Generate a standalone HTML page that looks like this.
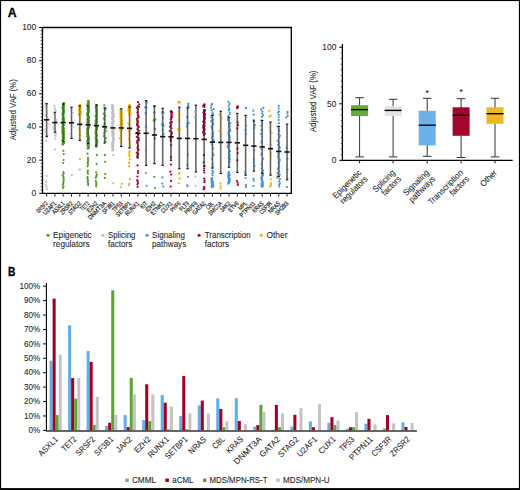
<!DOCTYPE html>
<html><head><meta charset="utf-8"><title>Figure</title>
<style>html,body{margin:0;padding:0;background:#fff;width:520px;height:490px;overflow:hidden}svg{display:block}text{font-family:"Liberation Sans",sans-serif}</style>
</head><body>
<svg width="520" height="490" viewBox="0 0 520 490"><rect x="0" y="0" width="520" height="490" fill="#fff"/>
<text x="7.7" y="16.9" font-size="12.3" font-weight="bold" stroke="#000" stroke-width="0.3" font-family="Liberation Sans, sans-serif">A</text>
<text x="7.9" y="275.8" font-size="12.3" font-weight="bold" stroke="#000" stroke-width="0.3" textLength="7.4" lengthAdjust="spacingAndGlyphs" font-family="Liberation Sans, sans-serif">B</text>
<path d="M42.5,27.5 H291.3 V193.3 H42.5 Z" fill="none" stroke="#000" stroke-width="1.3"/>
<line x1="39.2" y1="193.30" x2="42.5" y2="193.30" stroke="#000" stroke-width="1"/>
<text x="36.2" y="195.75" font-size="8.4" text-anchor="end" fill="#1e1e1e" stroke="#1e1e1e" stroke-width="0.08" font-family="Liberation Sans, sans-serif">0</text>
<line x1="39.2" y1="160.14" x2="42.5" y2="160.14" stroke="#000" stroke-width="1"/>
<text x="36.2" y="162.59" font-size="8.4" text-anchor="end" fill="#1e1e1e" stroke="#1e1e1e" stroke-width="0.08" font-family="Liberation Sans, sans-serif">20</text>
<line x1="39.2" y1="126.98" x2="42.5" y2="126.98" stroke="#000" stroke-width="1"/>
<text x="36.2" y="129.43" font-size="8.4" text-anchor="end" fill="#1e1e1e" stroke="#1e1e1e" stroke-width="0.08" font-family="Liberation Sans, sans-serif">40</text>
<line x1="39.2" y1="93.82" x2="42.5" y2="93.82" stroke="#000" stroke-width="1"/>
<text x="36.2" y="96.27" font-size="8.4" text-anchor="end" fill="#1e1e1e" stroke="#1e1e1e" stroke-width="0.08" font-family="Liberation Sans, sans-serif">60</text>
<line x1="39.2" y1="60.66" x2="42.5" y2="60.66" stroke="#000" stroke-width="1"/>
<text x="36.2" y="63.11" font-size="8.4" text-anchor="end" fill="#1e1e1e" stroke="#1e1e1e" stroke-width="0.08" font-family="Liberation Sans, sans-serif">80</text>
<line x1="39.2" y1="27.50" x2="42.5" y2="27.50" stroke="#000" stroke-width="1"/>
<text x="36.2" y="29.95" font-size="8.4" text-anchor="end" fill="#1e1e1e" stroke="#1e1e1e" stroke-width="0.08" font-family="Liberation Sans, sans-serif">100</text>
<line x1="40.7" y1="189.98" x2="42.5" y2="189.98" stroke="#000" stroke-width="0.8"/>
<line x1="40.7" y1="186.67" x2="42.5" y2="186.67" stroke="#000" stroke-width="0.8"/>
<line x1="40.7" y1="183.35" x2="42.5" y2="183.35" stroke="#000" stroke-width="0.8"/>
<line x1="40.7" y1="180.04" x2="42.5" y2="180.04" stroke="#000" stroke-width="0.8"/>
<line x1="40.7" y1="176.72" x2="42.5" y2="176.72" stroke="#000" stroke-width="0.8"/>
<line x1="40.7" y1="173.40" x2="42.5" y2="173.40" stroke="#000" stroke-width="0.8"/>
<line x1="40.7" y1="170.09" x2="42.5" y2="170.09" stroke="#000" stroke-width="0.8"/>
<line x1="40.7" y1="166.77" x2="42.5" y2="166.77" stroke="#000" stroke-width="0.8"/>
<line x1="40.7" y1="163.46" x2="42.5" y2="163.46" stroke="#000" stroke-width="0.8"/>
<line x1="40.7" y1="156.82" x2="42.5" y2="156.82" stroke="#000" stroke-width="0.8"/>
<line x1="40.7" y1="153.51" x2="42.5" y2="153.51" stroke="#000" stroke-width="0.8"/>
<line x1="40.7" y1="150.19" x2="42.5" y2="150.19" stroke="#000" stroke-width="0.8"/>
<line x1="40.7" y1="146.88" x2="42.5" y2="146.88" stroke="#000" stroke-width="0.8"/>
<line x1="40.7" y1="143.56" x2="42.5" y2="143.56" stroke="#000" stroke-width="0.8"/>
<line x1="40.7" y1="140.24" x2="42.5" y2="140.24" stroke="#000" stroke-width="0.8"/>
<line x1="40.7" y1="136.93" x2="42.5" y2="136.93" stroke="#000" stroke-width="0.8"/>
<line x1="40.7" y1="133.61" x2="42.5" y2="133.61" stroke="#000" stroke-width="0.8"/>
<line x1="40.7" y1="130.30" x2="42.5" y2="130.30" stroke="#000" stroke-width="0.8"/>
<line x1="40.7" y1="123.66" x2="42.5" y2="123.66" stroke="#000" stroke-width="0.8"/>
<line x1="40.7" y1="120.35" x2="42.5" y2="120.35" stroke="#000" stroke-width="0.8"/>
<line x1="40.7" y1="117.03" x2="42.5" y2="117.03" stroke="#000" stroke-width="0.8"/>
<line x1="40.7" y1="113.72" x2="42.5" y2="113.72" stroke="#000" stroke-width="0.8"/>
<line x1="40.7" y1="110.40" x2="42.5" y2="110.40" stroke="#000" stroke-width="0.8"/>
<line x1="40.7" y1="107.08" x2="42.5" y2="107.08" stroke="#000" stroke-width="0.8"/>
<line x1="40.7" y1="103.77" x2="42.5" y2="103.77" stroke="#000" stroke-width="0.8"/>
<line x1="40.7" y1="100.45" x2="42.5" y2="100.45" stroke="#000" stroke-width="0.8"/>
<line x1="40.7" y1="97.14" x2="42.5" y2="97.14" stroke="#000" stroke-width="0.8"/>
<line x1="40.7" y1="90.50" x2="42.5" y2="90.50" stroke="#000" stroke-width="0.8"/>
<line x1="40.7" y1="87.19" x2="42.5" y2="87.19" stroke="#000" stroke-width="0.8"/>
<line x1="40.7" y1="83.87" x2="42.5" y2="83.87" stroke="#000" stroke-width="0.8"/>
<line x1="40.7" y1="80.56" x2="42.5" y2="80.56" stroke="#000" stroke-width="0.8"/>
<line x1="40.7" y1="77.24" x2="42.5" y2="77.24" stroke="#000" stroke-width="0.8"/>
<line x1="40.7" y1="73.92" x2="42.5" y2="73.92" stroke="#000" stroke-width="0.8"/>
<line x1="40.7" y1="70.61" x2="42.5" y2="70.61" stroke="#000" stroke-width="0.8"/>
<line x1="40.7" y1="67.29" x2="42.5" y2="67.29" stroke="#000" stroke-width="0.8"/>
<line x1="40.7" y1="63.98" x2="42.5" y2="63.98" stroke="#000" stroke-width="0.8"/>
<line x1="40.7" y1="57.34" x2="42.5" y2="57.34" stroke="#000" stroke-width="0.8"/>
<line x1="40.7" y1="54.03" x2="42.5" y2="54.03" stroke="#000" stroke-width="0.8"/>
<line x1="40.7" y1="50.71" x2="42.5" y2="50.71" stroke="#000" stroke-width="0.8"/>
<line x1="40.7" y1="47.40" x2="42.5" y2="47.40" stroke="#000" stroke-width="0.8"/>
<line x1="40.7" y1="44.08" x2="42.5" y2="44.08" stroke="#000" stroke-width="0.8"/>
<line x1="40.7" y1="40.76" x2="42.5" y2="40.76" stroke="#000" stroke-width="0.8"/>
<line x1="40.7" y1="37.45" x2="42.5" y2="37.45" stroke="#000" stroke-width="0.8"/>
<line x1="40.7" y1="34.13" x2="42.5" y2="34.13" stroke="#000" stroke-width="0.8"/>
<line x1="40.7" y1="30.82" x2="42.5" y2="30.82" stroke="#000" stroke-width="0.8"/>
<text transform="translate(15.9,109.7) rotate(-90)" font-size="9.8" text-anchor="middle" fill="#1e1e1e" stroke="#1e1e1e" stroke-width="0.08" textLength="60.95" lengthAdjust="spacingAndGlyphs" font-family="Liberation Sans, sans-serif">Adjusted VAF (%)</text>
<line x1="46.65" y1="193.3" x2="46.65" y2="196.6" stroke="#000" stroke-width="0.9"/>
<text transform="translate(48.55,203.9) rotate(-45)" font-size="6.3" text-anchor="end" fill="#1e1e1e" stroke="#1e1e1e" stroke-width="0.2" textLength="13.90" lengthAdjust="spacingAndGlyphs" font-family="Liberation Sans, sans-serif">SRSF2</text>
<line x1="54.94" y1="193.3" x2="54.94" y2="196.6" stroke="#000" stroke-width="0.9"/>
<text transform="translate(56.84,203.9) rotate(-45)" font-size="6.3" text-anchor="end" fill="#1e1e1e" stroke="#1e1e1e" stroke-width="0.2" textLength="16.10" lengthAdjust="spacingAndGlyphs" font-family="Liberation Sans, sans-serif">U2AF1</text>
<line x1="63.23" y1="193.3" x2="63.23" y2="196.6" stroke="#000" stroke-width="0.9"/>
<text transform="translate(65.13,203.9) rotate(-45)" font-size="6.3" text-anchor="end" fill="#1e1e1e" stroke="#1e1e1e" stroke-width="0.2" textLength="14.90" lengthAdjust="spacingAndGlyphs" font-family="Liberation Sans, sans-serif">ASXL1</text>
<line x1="71.52" y1="193.3" x2="71.52" y2="196.6" stroke="#000" stroke-width="0.9"/>
<text transform="translate(73.42,203.9) rotate(-45)" font-size="6.3" text-anchor="end" fill="#1e1e1e" stroke="#1e1e1e" stroke-width="0.2" textLength="15.60" lengthAdjust="spacingAndGlyphs" font-family="Liberation Sans, sans-serif">ZRSR2</text>
<line x1="79.81" y1="193.3" x2="79.81" y2="196.6" stroke="#000" stroke-width="0.9"/>
<text transform="translate(81.71,203.9) rotate(-45)" font-size="6.3" text-anchor="end" fill="#1e1e1e" stroke="#1e1e1e" stroke-width="0.2" textLength="15.60" lengthAdjust="spacingAndGlyphs" font-family="Liberation Sans, sans-serif">STAG2</text>
<line x1="88.10" y1="193.3" x2="88.10" y2="196.6" stroke="#000" stroke-width="0.9"/>
<text transform="translate(90.00,203.9) rotate(-45)" font-size="6.3" text-anchor="end" fill="#1e1e1e" stroke="#1e1e1e" stroke-width="0.2" textLength="10.50" lengthAdjust="spacingAndGlyphs" font-family="Liberation Sans, sans-serif">TET2</text>
<line x1="96.39" y1="193.3" x2="96.39" y2="196.6" stroke="#000" stroke-width="0.9"/>
<text transform="translate(98.29,203.9) rotate(-45)" font-size="6.3" text-anchor="end" fill="#1e1e1e" stroke="#1e1e1e" stroke-width="0.2" textLength="12.80" lengthAdjust="spacingAndGlyphs" font-family="Liberation Sans, sans-serif">EZH2</text>
<line x1="104.68" y1="193.3" x2="104.68" y2="196.6" stroke="#000" stroke-width="0.9"/>
<text transform="translate(106.58,203.9) rotate(-45)" font-size="6.3" text-anchor="end" fill="#1e1e1e" stroke="#1e1e1e" stroke-width="0.2" textLength="22.90" lengthAdjust="spacingAndGlyphs" font-family="Liberation Sans, sans-serif">DNMT3A</text>
<line x1="112.97" y1="193.3" x2="112.97" y2="196.6" stroke="#000" stroke-width="0.9"/>
<text transform="translate(114.87,203.9) rotate(-45)" font-size="6.3" text-anchor="end" fill="#1e1e1e" stroke="#1e1e1e" stroke-width="0.2" textLength="14.50" lengthAdjust="spacingAndGlyphs" font-family="Liberation Sans, sans-serif">SF3B1</text>
<line x1="121.26" y1="193.3" x2="121.26" y2="196.6" stroke="#000" stroke-width="0.9"/>
<text transform="translate(123.16,203.9) rotate(-45)" font-size="6.3" text-anchor="end" fill="#1e1e1e" stroke="#1e1e1e" stroke-width="0.2" textLength="12.00" lengthAdjust="spacingAndGlyphs" font-family="Liberation Sans, sans-serif">TP53</text>
<line x1="129.55" y1="193.3" x2="129.55" y2="196.6" stroke="#000" stroke-width="0.9"/>
<text transform="translate(131.45,203.9) rotate(-45)" font-size="6.3" text-anchor="end" fill="#1e1e1e" stroke="#1e1e1e" stroke-width="0.2" textLength="18.50" lengthAdjust="spacingAndGlyphs" font-family="Liberation Sans, sans-serif">SETBP1</text>
<line x1="137.84" y1="193.3" x2="137.84" y2="196.6" stroke="#000" stroke-width="0.9"/>
<text transform="translate(139.74,203.9) rotate(-45)" font-size="6.3" text-anchor="end" fill="#1e1e1e" stroke="#1e1e1e" stroke-width="0.2" textLength="17.30" lengthAdjust="spacingAndGlyphs" font-family="Liberation Sans, sans-serif">RUNX1</text>
<line x1="146.13" y1="193.3" x2="146.13" y2="196.6" stroke="#000" stroke-width="0.9"/>
<text transform="translate(148.03,203.9) rotate(-45)" font-size="6.3" text-anchor="end" fill="#1e1e1e" stroke="#1e1e1e" stroke-width="0.2" textLength="7.60" lengthAdjust="spacingAndGlyphs" font-family="Liberation Sans, sans-serif">KIT</text>
<line x1="154.42" y1="193.3" x2="154.42" y2="196.6" stroke="#000" stroke-width="0.9"/>
<text transform="translate(156.32,203.9) rotate(-45)" font-size="6.3" text-anchor="end" fill="#1e1e1e" stroke="#1e1e1e" stroke-width="0.2" textLength="12.00" lengthAdjust="spacingAndGlyphs" font-family="Liberation Sans, sans-serif">IDH2</text>
<line x1="162.71" y1="193.3" x2="162.71" y2="196.6" stroke="#000" stroke-width="0.9"/>
<text transform="translate(164.61,203.9) rotate(-45)" font-size="6.3" text-anchor="end" fill="#1e1e1e" stroke="#1e1e1e" stroke-width="0.2" textLength="16.30" lengthAdjust="spacingAndGlyphs" font-family="Liberation Sans, sans-serif">ETNK1</text>
<line x1="171.00" y1="193.3" x2="171.00" y2="196.6" stroke="#000" stroke-width="0.9"/>
<text transform="translate(172.90,203.9) rotate(-45)" font-size="6.3" text-anchor="end" fill="#1e1e1e" stroke="#1e1e1e" stroke-width="0.2" textLength="13.70" lengthAdjust="spacingAndGlyphs" font-family="Liberation Sans, sans-serif">CUX1</text>
<line x1="179.29" y1="193.3" x2="179.29" y2="196.6" stroke="#000" stroke-width="0.9"/>
<text transform="translate(181.19,203.9) rotate(-45)" font-size="6.3" text-anchor="end" fill="#1e1e1e" stroke="#1e1e1e" stroke-width="0.2" textLength="12.00" lengthAdjust="spacingAndGlyphs" font-family="Liberation Sans, sans-serif">PHF6</text>
<line x1="187.58" y1="193.3" x2="187.58" y2="196.6" stroke="#000" stroke-width="0.9"/>
<text transform="translate(189.48,203.9) rotate(-45)" font-size="6.3" text-anchor="end" fill="#1e1e1e" stroke="#1e1e1e" stroke-width="0.2" textLength="10.80" lengthAdjust="spacingAndGlyphs" font-family="Liberation Sans, sans-serif">FLT3</text>
<line x1="195.87" y1="193.3" x2="195.87" y2="196.6" stroke="#000" stroke-width="0.9"/>
<text transform="translate(197.77,203.9) rotate(-45)" font-size="6.3" text-anchor="end" fill="#1e1e1e" stroke="#1e1e1e" stroke-width="0.2" textLength="15.20" lengthAdjust="spacingAndGlyphs" font-family="Liberation Sans, sans-serif">PRPF8</text>
<line x1="204.16" y1="193.3" x2="204.16" y2="196.6" stroke="#000" stroke-width="0.9"/>
<text transform="translate(206.06,203.9) rotate(-45)" font-size="6.3" text-anchor="end" fill="#1e1e1e" stroke="#1e1e1e" stroke-width="0.2" textLength="15.90" lengthAdjust="spacingAndGlyphs" font-family="Liberation Sans, sans-serif">GATA2</text>
<line x1="212.45" y1="193.3" x2="212.45" y2="196.6" stroke="#000" stroke-width="0.9"/>
<text transform="translate(214.35,203.9) rotate(-45)" font-size="6.3" text-anchor="end" fill="#1e1e1e" stroke="#1e1e1e" stroke-width="0.2" textLength="8.70" lengthAdjust="spacingAndGlyphs" font-family="Liberation Sans, sans-serif">CBL</text>
<line x1="220.74" y1="193.3" x2="220.74" y2="196.6" stroke="#000" stroke-width="0.9"/>
<text transform="translate(222.64,203.9) rotate(-45)" font-size="6.3" text-anchor="end" fill="#1e1e1e" stroke="#1e1e1e" stroke-width="0.2" textLength="16.80" lengthAdjust="spacingAndGlyphs" font-family="Liberation Sans, sans-serif">SMC1A</text>
<line x1="229.03" y1="193.3" x2="229.03" y2="196.6" stroke="#000" stroke-width="0.9"/>
<text transform="translate(230.93,203.9) rotate(-45)" font-size="6.3" text-anchor="end" fill="#1e1e1e" stroke="#1e1e1e" stroke-width="0.2" textLength="12.00" lengthAdjust="spacingAndGlyphs" font-family="Liberation Sans, sans-serif">JAK2</text>
<line x1="237.32" y1="193.3" x2="237.32" y2="196.6" stroke="#000" stroke-width="0.9"/>
<text transform="translate(239.22,203.9) rotate(-45)" font-size="6.3" text-anchor="end" fill="#1e1e1e" stroke="#1e1e1e" stroke-width="0.2" textLength="12.00" lengthAdjust="spacingAndGlyphs" font-family="Liberation Sans, sans-serif">ETV6</text>
<line x1="245.61" y1="193.3" x2="245.61" y2="196.6" stroke="#000" stroke-width="0.9"/>
<text transform="translate(247.51,203.9) rotate(-45)" font-size="6.3" text-anchor="end" fill="#1e1e1e" stroke="#1e1e1e" stroke-width="0.2" textLength="9.70" lengthAdjust="spacingAndGlyphs" font-family="Liberation Sans, sans-serif">MPL</text>
<line x1="253.90" y1="193.3" x2="253.90" y2="196.6" stroke="#000" stroke-width="0.9"/>
<text transform="translate(255.80,203.9) rotate(-45)" font-size="6.3" text-anchor="end" fill="#1e1e1e" stroke="#1e1e1e" stroke-width="0.2" textLength="19.60" lengthAdjust="spacingAndGlyphs" font-family="Liberation Sans, sans-serif">PTPN11</text>
<line x1="262.19" y1="193.3" x2="262.19" y2="196.6" stroke="#000" stroke-width="0.9"/>
<text transform="translate(264.09,203.9) rotate(-45)" font-size="6.3" text-anchor="end" fill="#1e1e1e" stroke="#1e1e1e" stroke-width="0.2" textLength="13.10" lengthAdjust="spacingAndGlyphs" font-family="Liberation Sans, sans-serif">KRAS</text>
<line x1="270.48" y1="193.3" x2="270.48" y2="196.6" stroke="#000" stroke-width="0.9"/>
<text transform="translate(272.38,203.9) rotate(-45)" font-size="6.3" text-anchor="end" fill="#1e1e1e" stroke="#1e1e1e" stroke-width="0.2" textLength="15.20" lengthAdjust="spacingAndGlyphs" font-family="Liberation Sans, sans-serif">CSF3R</text>
<line x1="278.77" y1="193.3" x2="278.77" y2="196.6" stroke="#000" stroke-width="0.9"/>
<text transform="translate(280.67,203.9) rotate(-45)" font-size="6.3" text-anchor="end" fill="#1e1e1e" stroke="#1e1e1e" stroke-width="0.2" textLength="14.10" lengthAdjust="spacingAndGlyphs" font-family="Liberation Sans, sans-serif">NRAS</text>
<line x1="287.06" y1="193.3" x2="287.06" y2="196.6" stroke="#000" stroke-width="0.9"/>
<text transform="translate(288.96,203.9) rotate(-45)" font-size="6.3" text-anchor="end" fill="#1e1e1e" stroke="#1e1e1e" stroke-width="0.2" textLength="16.30" lengthAdjust="spacingAndGlyphs" font-family="Liberation Sans, sans-serif">SH2B3</text>
<line x1="46.65" y1="103.7" x2="46.65" y2="136.3" stroke="#9a9a9a" stroke-width="1.8"/>
<line x1="54.94" y1="112.3" x2="54.94" y2="132.2" stroke="#9a9a9a" stroke-width="1.8"/>
<line x1="63.23" y1="104.0" x2="63.23" y2="141.4" stroke="#9a9a9a" stroke-width="1.8"/>
<line x1="71.52" y1="107.2" x2="71.52" y2="138.4" stroke="#9a9a9a" stroke-width="1.8"/>
<line x1="79.81" y1="106.0" x2="79.81" y2="140.4" stroke="#9a9a9a" stroke-width="1.8"/>
<line x1="88.10" y1="106.2" x2="88.10" y2="143.5" stroke="#9a9a9a" stroke-width="1.8"/>
<line x1="96.39" y1="105.0" x2="96.39" y2="145.5" stroke="#9a9a9a" stroke-width="1.8"/>
<line x1="104.68" y1="108.0" x2="104.68" y2="143.0" stroke="#9a9a9a" stroke-width="1.8"/>
<line x1="121.26" y1="108.8" x2="121.26" y2="146.5" stroke="#9a9a9a" stroke-width="1.8"/>
<line x1="129.55" y1="107.0" x2="129.55" y2="148.0" stroke="#9a9a9a" stroke-width="1.8"/>
<line x1="137.84" y1="106.0" x2="137.84" y2="158.0" stroke="#9a9a9a" stroke-width="1.8"/>
<line x1="146.13" y1="100.6" x2="146.13" y2="165.4" stroke="#9a9a9a" stroke-width="1.8"/>
<line x1="154.42" y1="106.0" x2="154.42" y2="163.6" stroke="#9a9a9a" stroke-width="1.8"/>
<line x1="162.71" y1="108.3" x2="162.71" y2="165.4" stroke="#9a9a9a" stroke-width="1.8"/>
<line x1="171.00" y1="111.0" x2="171.00" y2="160.3" stroke="#9a9a9a" stroke-width="1.8"/>
<line x1="179.29" y1="107.2" x2="179.29" y2="168.7" stroke="#9a9a9a" stroke-width="1.8"/>
<line x1="187.58" y1="107.8" x2="187.58" y2="168.7" stroke="#9a9a9a" stroke-width="1.8"/>
<line x1="195.87" y1="105.2" x2="195.87" y2="172.0" stroke="#9a9a9a" stroke-width="1.8"/>
<line x1="204.16" y1="110.0" x2="204.16" y2="166.0" stroke="#9a9a9a" stroke-width="1.8"/>
<line x1="212.45" y1="115.4" x2="212.45" y2="168.1" stroke="#9a9a9a" stroke-width="1.8"/>
<line x1="220.74" y1="111.3" x2="220.74" y2="173.5" stroke="#9a9a9a" stroke-width="1.8"/>
<line x1="229.03" y1="117.2" x2="229.03" y2="167.3" stroke="#9a9a9a" stroke-width="1.8"/>
<line x1="237.32" y1="113.4" x2="237.32" y2="172.4" stroke="#9a9a9a" stroke-width="1.8"/>
<line x1="245.61" y1="115.4" x2="245.61" y2="175.2" stroke="#9a9a9a" stroke-width="1.8"/>
<line x1="253.90" y1="121.0" x2="253.90" y2="171.1" stroke="#9a9a9a" stroke-width="1.8"/>
<line x1="262.19" y1="120.5" x2="262.19" y2="173.2" stroke="#9a9a9a" stroke-width="1.8"/>
<line x1="270.48" y1="122.0" x2="270.48" y2="175.2" stroke="#9a9a9a" stroke-width="1.8"/>
<line x1="278.77" y1="126.4" x2="278.77" y2="176.7" stroke="#9a9a9a" stroke-width="1.8"/>
<line x1="287.06" y1="124.1" x2="287.06" y2="179.8" stroke="#9a9a9a" stroke-width="1.8"/>
<circle cx="45.74" cy="103.63" r="1.1" fill="#bfbfc2"/>
<circle cx="45.54" cy="106.71" r="1.1" fill="#bfbfc2"/>
<circle cx="46.30" cy="108.92" r="1.1" fill="#bfbfc2"/>
<circle cx="46.67" cy="110.43" r="1.1" fill="#bfbfc2"/>
<circle cx="46.48" cy="112.82" r="1.1" fill="#bfbfc2"/>
<circle cx="45.59" cy="115.32" r="1.1" fill="#bfbfc2"/>
<circle cx="47.50" cy="118.45" r="1.1" fill="#bfbfc2"/>
<circle cx="45.93" cy="120.30" r="1.1" fill="#bfbfc2"/>
<circle cx="47.81" cy="123.72" r="1.1" fill="#bfbfc2"/>
<circle cx="46.38" cy="126.06" r="1.1" fill="#bfbfc2"/>
<circle cx="45.47" cy="129.28" r="1.1" fill="#bfbfc2"/>
<circle cx="46.10" cy="131.49" r="1.1" fill="#bfbfc2"/>
<circle cx="45.66" cy="132.53" r="1.1" fill="#bfbfc2"/>
<circle cx="47.47" cy="135.29" r="1.1" fill="#bfbfc2"/>
<circle cx="46.86" cy="137.48" r="1.1" fill="#bfbfc2"/>
<circle cx="46.32" cy="140.81" r="1.1" fill="#bfbfc2"/>
<circle cx="46.71" cy="176.10" r="1.1" fill="#bfbfc2"/>
<circle cx="46.13" cy="181.70" r="1.1" fill="#bfbfc2"/>
<circle cx="46.12" cy="184.80" r="1.1" fill="#bfbfc2"/>
<circle cx="46.30" cy="186.50" r="1.1" fill="#bfbfc2"/>
<circle cx="46.87" cy="188.90" r="1.1" fill="#bfbfc2"/>
<circle cx="54.46" cy="105.86" r="1.1" fill="#bfbfc2"/>
<circle cx="54.82" cy="108.67" r="1.1" fill="#bfbfc2"/>
<circle cx="55.71" cy="110.60" r="1.1" fill="#bfbfc2"/>
<circle cx="54.27" cy="113.90" r="1.1" fill="#bfbfc2"/>
<circle cx="55.01" cy="116.15" r="1.1" fill="#bfbfc2"/>
<circle cx="55.54" cy="119.25" r="1.1" fill="#bfbfc2"/>
<circle cx="56.19" cy="120.58" r="1.1" fill="#bfbfc2"/>
<circle cx="54.73" cy="122.74" r="1.1" fill="#bfbfc2"/>
<circle cx="54.04" cy="126.51" r="1.1" fill="#bfbfc2"/>
<circle cx="53.74" cy="128.48" r="1.1" fill="#bfbfc2"/>
<circle cx="55.63" cy="131.34" r="1.1" fill="#bfbfc2"/>
<circle cx="55.92" cy="133.65" r="1.1" fill="#bfbfc2"/>
<circle cx="55.45" cy="135.63" r="1.1" fill="#bfbfc2"/>
<circle cx="55.15" cy="138.69" r="1.1" fill="#bfbfc2"/>
<circle cx="54.89" cy="149.60" r="1.1" fill="#bfbfc2"/>
<circle cx="63.90" cy="103.26" r="1.2" fill="#4f9c2a"/>
<circle cx="63.48" cy="103.67" r="1.2" fill="#4f9c2a"/>
<circle cx="63.53" cy="104.06" r="1.2" fill="#4f9c2a"/>
<circle cx="63.97" cy="105.11" r="1.2" fill="#4f9c2a"/>
<circle cx="62.91" cy="105.89" r="1.2" fill="#4f9c2a"/>
<circle cx="63.48" cy="106.26" r="1.2" fill="#4f9c2a"/>
<circle cx="63.17" cy="106.68" r="1.2" fill="#4f9c2a"/>
<circle cx="62.66" cy="107.44" r="1.2" fill="#4f9c2a"/>
<circle cx="63.63" cy="108.03" r="1.2" fill="#4f9c2a"/>
<circle cx="62.85" cy="108.73" r="1.2" fill="#4f9c2a"/>
<circle cx="63.79" cy="109.57" r="1.2" fill="#4f9c2a"/>
<circle cx="63.15" cy="110.02" r="1.2" fill="#4f9c2a"/>
<circle cx="63.81" cy="110.99" r="1.2" fill="#4f9c2a"/>
<circle cx="63.78" cy="111.83" r="1.2" fill="#4f9c2a"/>
<circle cx="63.10" cy="112.14" r="1.2" fill="#4f9c2a"/>
<circle cx="63.81" cy="112.85" r="1.2" fill="#4f9c2a"/>
<circle cx="62.71" cy="113.91" r="1.2" fill="#4f9c2a"/>
<circle cx="62.83" cy="114.05" r="1.2" fill="#4f9c2a"/>
<circle cx="63.21" cy="114.75" r="1.2" fill="#4f9c2a"/>
<circle cx="62.87" cy="115.65" r="1.2" fill="#4f9c2a"/>
<circle cx="63.11" cy="115.92" r="1.2" fill="#4f9c2a"/>
<circle cx="63.33" cy="116.82" r="1.2" fill="#4f9c2a"/>
<circle cx="63.52" cy="117.87" r="1.2" fill="#4f9c2a"/>
<circle cx="63.41" cy="118.24" r="1.2" fill="#4f9c2a"/>
<circle cx="62.56" cy="119.01" r="1.2" fill="#4f9c2a"/>
<circle cx="63.65" cy="119.82" r="1.2" fill="#4f9c2a"/>
<circle cx="63.68" cy="120.46" r="1.2" fill="#4f9c2a"/>
<circle cx="63.08" cy="120.80" r="1.2" fill="#4f9c2a"/>
<circle cx="63.43" cy="121.27" r="1.2" fill="#4f9c2a"/>
<circle cx="62.58" cy="121.91" r="1.2" fill="#4f9c2a"/>
<circle cx="62.72" cy="122.67" r="1.2" fill="#4f9c2a"/>
<circle cx="62.56" cy="123.41" r="1.2" fill="#4f9c2a"/>
<circle cx="62.71" cy="123.85" r="1.2" fill="#4f9c2a"/>
<circle cx="63.03" cy="124.58" r="1.2" fill="#4f9c2a"/>
<circle cx="63.79" cy="125.19" r="1.2" fill="#4f9c2a"/>
<circle cx="62.70" cy="126.24" r="1.2" fill="#4f9c2a"/>
<circle cx="63.00" cy="126.66" r="1.2" fill="#4f9c2a"/>
<circle cx="62.66" cy="127.40" r="1.2" fill="#4f9c2a"/>
<circle cx="63.97" cy="128.38" r="1.2" fill="#4f9c2a"/>
<circle cx="63.21" cy="128.78" r="1.2" fill="#4f9c2a"/>
<circle cx="62.63" cy="129.19" r="1.2" fill="#4f9c2a"/>
<circle cx="62.88" cy="130.02" r="1.2" fill="#4f9c2a"/>
<circle cx="62.72" cy="131.01" r="1.2" fill="#4f9c2a"/>
<circle cx="63.91" cy="131.14" r="1.2" fill="#4f9c2a"/>
<circle cx="62.70" cy="132.13" r="1.2" fill="#4f9c2a"/>
<circle cx="62.52" cy="132.80" r="1.2" fill="#4f9c2a"/>
<circle cx="63.95" cy="133.45" r="1.2" fill="#4f9c2a"/>
<circle cx="63.52" cy="134.33" r="1.2" fill="#4f9c2a"/>
<circle cx="63.03" cy="134.60" r="1.2" fill="#4f9c2a"/>
<circle cx="63.64" cy="135.20" r="1.2" fill="#4f9c2a"/>
<circle cx="63.65" cy="136.10" r="1.2" fill="#4f9c2a"/>
<circle cx="62.81" cy="136.63" r="1.2" fill="#4f9c2a"/>
<circle cx="63.96" cy="137.61" r="1.2" fill="#4f9c2a"/>
<circle cx="63.69" cy="138.29" r="1.2" fill="#4f9c2a"/>
<circle cx="63.59" cy="138.93" r="1.2" fill="#4f9c2a"/>
<circle cx="63.26" cy="139.20" r="1.2" fill="#4f9c2a"/>
<circle cx="62.52" cy="139.95" r="1.2" fill="#4f9c2a"/>
<circle cx="62.90" cy="140.39" r="1.2" fill="#4f9c2a"/>
<circle cx="63.52" cy="141.21" r="1.2" fill="#4f9c2a"/>
<circle cx="63.15" cy="142.33" r="1.2" fill="#4f9c2a"/>
<circle cx="63.96" cy="142.98" r="1.2" fill="#4f9c2a"/>
<circle cx="63.03" cy="143.65" r="1.2" fill="#4f9c2a"/>
<circle cx="62.82" cy="143.82" r="1.2" fill="#4f9c2a"/>
<circle cx="62.79" cy="144.47" r="1.2" fill="#4f9c2a"/>
<circle cx="63.38" cy="150.80" r="1.1" fill="#4f9c2a"/>
<circle cx="63.71" cy="154.00" r="1.1" fill="#4f9c2a"/>
<circle cx="63.64" cy="160.00" r="1.1" fill="#4f9c2a"/>
<circle cx="63.21" cy="163.10" r="1.1" fill="#4f9c2a"/>
<circle cx="63.41" cy="172.00" r="1.1" fill="#4f9c2a"/>
<circle cx="63.59" cy="173.60" r="1.1" fill="#4f9c2a"/>
<circle cx="62.73" cy="175.20" r="1.1" fill="#4f9c2a"/>
<circle cx="63.42" cy="176.80" r="1.1" fill="#4f9c2a"/>
<circle cx="63.72" cy="178.40" r="1.1" fill="#4f9c2a"/>
<circle cx="63.57" cy="180.00" r="1.1" fill="#4f9c2a"/>
<circle cx="63.53" cy="181.60" r="1.1" fill="#4f9c2a"/>
<circle cx="63.20" cy="183.20" r="1.1" fill="#4f9c2a"/>
<circle cx="62.84" cy="184.80" r="1.1" fill="#4f9c2a"/>
<circle cx="63.58" cy="186.40" r="1.1" fill="#4f9c2a"/>
<circle cx="63.03" cy="188.00" r="1.1" fill="#4f9c2a"/>
<circle cx="72.75" cy="112.67" r="1.1" fill="#bfbfc2"/>
<circle cx="71.26" cy="115.49" r="1.1" fill="#bfbfc2"/>
<circle cx="72.10" cy="121.49" r="1.1" fill="#bfbfc2"/>
<circle cx="70.55" cy="123.07" r="1.1" fill="#bfbfc2"/>
<circle cx="72.57" cy="127.17" r="1.1" fill="#bfbfc2"/>
<circle cx="70.60" cy="133.52" r="1.1" fill="#bfbfc2"/>
<circle cx="71.91" cy="175.10" r="1.1" fill="#bfbfc2"/>
<circle cx="80.05" cy="105.28" r="1.2" fill="#e9b010"/>
<circle cx="79.88" cy="105.50" r="1.2" fill="#e9b010"/>
<circle cx="79.08" cy="105.97" r="1.2" fill="#e9b010"/>
<circle cx="80.03" cy="107.06" r="1.2" fill="#e9b010"/>
<circle cx="80.46" cy="107.39" r="1.2" fill="#e9b010"/>
<circle cx="80.37" cy="107.93" r="1.2" fill="#e9b010"/>
<circle cx="79.38" cy="108.76" r="1.2" fill="#e9b010"/>
<circle cx="79.50" cy="109.01" r="1.2" fill="#e9b010"/>
<circle cx="79.94" cy="109.60" r="1.2" fill="#e9b010"/>
<circle cx="79.69" cy="110.21" r="1.2" fill="#e9b010"/>
<circle cx="80.43" cy="110.73" r="1.2" fill="#e9b010"/>
<circle cx="79.75" cy="111.45" r="1.2" fill="#e9b010"/>
<circle cx="80.42" cy="112.18" r="1.2" fill="#e9b010"/>
<circle cx="80.44" cy="112.68" r="1.2" fill="#e9b010"/>
<circle cx="79.86" cy="113.32" r="1.2" fill="#e9b010"/>
<circle cx="79.09" cy="113.93" r="1.2" fill="#e9b010"/>
<circle cx="79.33" cy="114.48" r="1.2" fill="#e9b010"/>
<circle cx="80.26" cy="114.81" r="1.2" fill="#e9b010"/>
<circle cx="79.77" cy="115.51" r="1.2" fill="#e9b010"/>
<circle cx="79.96" cy="117.74" r="1.1" fill="#e9b010"/>
<circle cx="79.86" cy="119.78" r="1.1" fill="#e9b010"/>
<circle cx="80.55" cy="123.33" r="1.1" fill="#e9b010"/>
<circle cx="79.97" cy="125.25" r="1.1" fill="#e9b010"/>
<circle cx="79.23" cy="128.60" r="1.1" fill="#e9b010"/>
<circle cx="79.83" cy="132.85" r="1.1" fill="#e9b010"/>
<circle cx="80.49" cy="135.35" r="1.1" fill="#e9b010"/>
<circle cx="79.66" cy="139.19" r="1.1" fill="#e9b010"/>
<circle cx="79.95" cy="159.00" r="1.1" fill="#e9b010"/>
<circle cx="79.82" cy="169.50" r="1.1" fill="#e9b010"/>
<circle cx="88.39" cy="100.94" r="1.2" fill="#4f9c2a"/>
<circle cx="88.15" cy="101.58" r="1.2" fill="#4f9c2a"/>
<circle cx="88.76" cy="102.27" r="1.2" fill="#4f9c2a"/>
<circle cx="88.66" cy="103.09" r="1.2" fill="#4f9c2a"/>
<circle cx="87.74" cy="103.92" r="1.2" fill="#4f9c2a"/>
<circle cx="88.76" cy="104.34" r="1.2" fill="#4f9c2a"/>
<circle cx="87.56" cy="105.20" r="1.2" fill="#4f9c2a"/>
<circle cx="88.01" cy="105.39" r="1.2" fill="#4f9c2a"/>
<circle cx="87.71" cy="106.03" r="1.2" fill="#4f9c2a"/>
<circle cx="88.35" cy="106.70" r="1.2" fill="#4f9c2a"/>
<circle cx="88.70" cy="107.85" r="1.2" fill="#4f9c2a"/>
<circle cx="88.42" cy="108.10" r="1.2" fill="#4f9c2a"/>
<circle cx="87.56" cy="109.11" r="1.2" fill="#4f9c2a"/>
<circle cx="88.80" cy="109.93" r="1.2" fill="#4f9c2a"/>
<circle cx="88.78" cy="110.16" r="1.2" fill="#4f9c2a"/>
<circle cx="88.08" cy="110.95" r="1.2" fill="#4f9c2a"/>
<circle cx="88.60" cy="112.02" r="1.2" fill="#4f9c2a"/>
<circle cx="88.00" cy="112.14" r="1.2" fill="#4f9c2a"/>
<circle cx="87.86" cy="113.05" r="1.2" fill="#4f9c2a"/>
<circle cx="87.83" cy="113.50" r="1.2" fill="#4f9c2a"/>
<circle cx="87.38" cy="114.53" r="1.2" fill="#4f9c2a"/>
<circle cx="88.01" cy="115.09" r="1.2" fill="#4f9c2a"/>
<circle cx="87.85" cy="115.40" r="1.2" fill="#4f9c2a"/>
<circle cx="88.12" cy="116.48" r="1.2" fill="#4f9c2a"/>
<circle cx="88.83" cy="116.78" r="1.2" fill="#4f9c2a"/>
<circle cx="88.81" cy="117.94" r="1.2" fill="#4f9c2a"/>
<circle cx="87.75" cy="118.15" r="1.2" fill="#4f9c2a"/>
<circle cx="88.52" cy="118.78" r="1.2" fill="#4f9c2a"/>
<circle cx="87.54" cy="119.60" r="1.2" fill="#4f9c2a"/>
<circle cx="88.72" cy="120.38" r="1.2" fill="#4f9c2a"/>
<circle cx="87.74" cy="121.32" r="1.2" fill="#4f9c2a"/>
<circle cx="88.73" cy="121.54" r="1.2" fill="#4f9c2a"/>
<circle cx="88.40" cy="122.49" r="1.2" fill="#4f9c2a"/>
<circle cx="87.44" cy="122.84" r="1.2" fill="#4f9c2a"/>
<circle cx="87.99" cy="123.92" r="1.2" fill="#4f9c2a"/>
<circle cx="88.76" cy="124.18" r="1.2" fill="#4f9c2a"/>
<circle cx="88.55" cy="125.23" r="1.2" fill="#4f9c2a"/>
<circle cx="88.63" cy="125.53" r="1.2" fill="#4f9c2a"/>
<circle cx="88.64" cy="126.19" r="1.2" fill="#4f9c2a"/>
<circle cx="87.86" cy="127.12" r="1.2" fill="#4f9c2a"/>
<circle cx="88.74" cy="127.86" r="1.2" fill="#4f9c2a"/>
<circle cx="87.54" cy="128.34" r="1.2" fill="#4f9c2a"/>
<circle cx="87.71" cy="129.19" r="1.2" fill="#4f9c2a"/>
<circle cx="87.59" cy="129.58" r="1.2" fill="#4f9c2a"/>
<circle cx="87.65" cy="130.21" r="1.2" fill="#4f9c2a"/>
<circle cx="87.81" cy="131.06" r="1.2" fill="#4f9c2a"/>
<circle cx="87.78" cy="132.03" r="1.2" fill="#4f9c2a"/>
<circle cx="87.62" cy="132.53" r="1.2" fill="#4f9c2a"/>
<circle cx="87.38" cy="133.10" r="1.2" fill="#4f9c2a"/>
<circle cx="87.37" cy="133.71" r="1.2" fill="#4f9c2a"/>
<circle cx="88.18" cy="134.70" r="1.2" fill="#4f9c2a"/>
<circle cx="88.06" cy="135.01" r="1.2" fill="#4f9c2a"/>
<circle cx="87.51" cy="136.18" r="1.2" fill="#4f9c2a"/>
<circle cx="88.00" cy="136.78" r="1.2" fill="#4f9c2a"/>
<circle cx="88.60" cy="137.23" r="1.2" fill="#4f9c2a"/>
<circle cx="88.11" cy="137.84" r="1.2" fill="#4f9c2a"/>
<circle cx="88.82" cy="138.71" r="1.2" fill="#4f9c2a"/>
<circle cx="88.60" cy="139.15" r="1.2" fill="#4f9c2a"/>
<circle cx="88.30" cy="140.06" r="1.2" fill="#4f9c2a"/>
<circle cx="87.87" cy="140.53" r="1.2" fill="#4f9c2a"/>
<circle cx="87.54" cy="140.97" r="1.2" fill="#4f9c2a"/>
<circle cx="88.46" cy="141.65" r="1.2" fill="#4f9c2a"/>
<circle cx="87.59" cy="142.45" r="1.2" fill="#4f9c2a"/>
<circle cx="88.61" cy="143.01" r="1.2" fill="#4f9c2a"/>
<circle cx="88.36" cy="144.21" r="1.2" fill="#4f9c2a"/>
<circle cx="87.71" cy="144.48" r="1.2" fill="#4f9c2a"/>
<circle cx="88.04" cy="145.16" r="1.2" fill="#4f9c2a"/>
<circle cx="88.02" cy="145.74" r="1.2" fill="#4f9c2a"/>
<circle cx="88.79" cy="146.49" r="1.2" fill="#4f9c2a"/>
<circle cx="88.17" cy="147.64" r="1.2" fill="#4f9c2a"/>
<circle cx="88.80" cy="147.82" r="1.2" fill="#4f9c2a"/>
<circle cx="87.88" cy="148.54" r="1.2" fill="#4f9c2a"/>
<circle cx="87.50" cy="153.70" r="1.1" fill="#4f9c2a"/>
<circle cx="87.96" cy="157.80" r="1.1" fill="#4f9c2a"/>
<circle cx="88.07" cy="159.50" r="1.1" fill="#4f9c2a"/>
<circle cx="88.10" cy="161.20" r="1.1" fill="#4f9c2a"/>
<circle cx="87.74" cy="162.90" r="1.1" fill="#4f9c2a"/>
<circle cx="88.11" cy="164.60" r="1.1" fill="#4f9c2a"/>
<circle cx="87.51" cy="166.30" r="1.1" fill="#4f9c2a"/>
<circle cx="87.82" cy="170.50" r="1.1" fill="#4f9c2a"/>
<circle cx="87.61" cy="172.00" r="1.1" fill="#4f9c2a"/>
<circle cx="87.98" cy="173.60" r="1.1" fill="#4f9c2a"/>
<circle cx="87.55" cy="177.10" r="1.1" fill="#4f9c2a"/>
<circle cx="87.53" cy="178.70" r="1.1" fill="#4f9c2a"/>
<circle cx="87.87" cy="180.30" r="1.1" fill="#4f9c2a"/>
<circle cx="87.78" cy="181.90" r="1.1" fill="#4f9c2a"/>
<circle cx="88.20" cy="183.50" r="1.1" fill="#4f9c2a"/>
<circle cx="88.14" cy="185.10" r="1.1" fill="#4f9c2a"/>
<circle cx="96.63" cy="104.87" r="1.2" fill="#4f9c2a"/>
<circle cx="96.96" cy="105.73" r="1.2" fill="#4f9c2a"/>
<circle cx="96.13" cy="106.33" r="1.2" fill="#4f9c2a"/>
<circle cx="95.86" cy="107.75" r="1.2" fill="#4f9c2a"/>
<circle cx="96.60" cy="108.41" r="1.2" fill="#4f9c2a"/>
<circle cx="96.89" cy="108.70" r="1.2" fill="#4f9c2a"/>
<circle cx="96.58" cy="110.35" r="1.2" fill="#4f9c2a"/>
<circle cx="96.86" cy="111.10" r="1.2" fill="#4f9c2a"/>
<circle cx="96.43" cy="111.46" r="1.2" fill="#4f9c2a"/>
<circle cx="96.89" cy="112.67" r="1.2" fill="#4f9c2a"/>
<circle cx="96.88" cy="113.83" r="1.2" fill="#4f9c2a"/>
<circle cx="96.98" cy="114.53" r="1.2" fill="#4f9c2a"/>
<circle cx="96.68" cy="115.51" r="1.2" fill="#4f9c2a"/>
<circle cx="95.69" cy="116.00" r="1.2" fill="#4f9c2a"/>
<circle cx="96.18" cy="116.80" r="1.2" fill="#4f9c2a"/>
<circle cx="96.89" cy="117.67" r="1.2" fill="#4f9c2a"/>
<circle cx="96.58" cy="118.96" r="1.2" fill="#4f9c2a"/>
<circle cx="96.66" cy="119.92" r="1.2" fill="#4f9c2a"/>
<circle cx="95.64" cy="120.69" r="1.2" fill="#4f9c2a"/>
<circle cx="96.76" cy="121.85" r="1.2" fill="#4f9c2a"/>
<circle cx="96.44" cy="122.48" r="1.2" fill="#4f9c2a"/>
<circle cx="95.74" cy="123.51" r="1.2" fill="#4f9c2a"/>
<circle cx="96.02" cy="124.47" r="1.2" fill="#4f9c2a"/>
<circle cx="96.04" cy="124.77" r="1.2" fill="#4f9c2a"/>
<circle cx="95.95" cy="126.25" r="1.2" fill="#4f9c2a"/>
<circle cx="97.10" cy="127.15" r="1.2" fill="#4f9c2a"/>
<circle cx="96.21" cy="127.82" r="1.2" fill="#4f9c2a"/>
<circle cx="96.67" cy="128.70" r="1.2" fill="#4f9c2a"/>
<circle cx="96.57" cy="129.85" r="1.2" fill="#4f9c2a"/>
<circle cx="95.76" cy="130.63" r="1.2" fill="#4f9c2a"/>
<circle cx="96.02" cy="131.08" r="1.2" fill="#4f9c2a"/>
<circle cx="96.10" cy="132.50" r="1.2" fill="#4f9c2a"/>
<circle cx="95.66" cy="133.24" r="1.2" fill="#4f9c2a"/>
<circle cx="96.04" cy="133.68" r="1.2" fill="#4f9c2a"/>
<circle cx="96.68" cy="135.12" r="1.2" fill="#4f9c2a"/>
<circle cx="96.08" cy="136.01" r="1.2" fill="#4f9c2a"/>
<circle cx="96.34" cy="136.76" r="1.2" fill="#4f9c2a"/>
<circle cx="95.82" cy="137.61" r="1.2" fill="#4f9c2a"/>
<circle cx="95.94" cy="138.88" r="1.2" fill="#4f9c2a"/>
<circle cx="97.04" cy="139.85" r="1.2" fill="#4f9c2a"/>
<circle cx="96.33" cy="139.88" r="1.2" fill="#4f9c2a"/>
<circle cx="97.09" cy="141.49" r="1.2" fill="#4f9c2a"/>
<circle cx="96.04" cy="142.05" r="1.2" fill="#4f9c2a"/>
<circle cx="97.06" cy="142.73" r="1.2" fill="#4f9c2a"/>
<circle cx="96.51" cy="143.62" r="1.2" fill="#4f9c2a"/>
<circle cx="96.43" cy="144.45" r="1.2" fill="#4f9c2a"/>
<circle cx="95.84" cy="146.07" r="1.2" fill="#4f9c2a"/>
<circle cx="96.40" cy="146.84" r="1.2" fill="#4f9c2a"/>
<circle cx="96.85" cy="154.90" r="1.1" fill="#4f9c2a"/>
<circle cx="96.63" cy="164.10" r="1.1" fill="#4f9c2a"/>
<circle cx="96.07" cy="172.30" r="1.1" fill="#4f9c2a"/>
<circle cx="96.87" cy="174.60" r="1.1" fill="#4f9c2a"/>
<circle cx="96.37" cy="176.20" r="1.1" fill="#4f9c2a"/>
<circle cx="95.82" cy="177.70" r="1.1" fill="#4f9c2a"/>
<circle cx="95.79" cy="181.20" r="1.1" fill="#4f9c2a"/>
<circle cx="96.38" cy="182.90" r="1.1" fill="#4f9c2a"/>
<circle cx="96.33" cy="184.60" r="1.1" fill="#4f9c2a"/>
<circle cx="96.15" cy="186.30" r="1.1" fill="#4f9c2a"/>
<circle cx="104.27" cy="105.46" r="1.1" fill="#4f9c2a"/>
<circle cx="105.56" cy="108.08" r="1.1" fill="#4f9c2a"/>
<circle cx="105.33" cy="109.80" r="1.1" fill="#4f9c2a"/>
<circle cx="103.69" cy="113.64" r="1.1" fill="#4f9c2a"/>
<circle cx="105.23" cy="116.10" r="1.1" fill="#4f9c2a"/>
<circle cx="104.13" cy="118.36" r="1.1" fill="#4f9c2a"/>
<circle cx="104.40" cy="119.68" r="1.1" fill="#4f9c2a"/>
<circle cx="104.91" cy="123.14" r="1.1" fill="#4f9c2a"/>
<circle cx="104.49" cy="124.26" r="1.1" fill="#4f9c2a"/>
<circle cx="103.51" cy="126.41" r="1.1" fill="#4f9c2a"/>
<circle cx="105.55" cy="128.39" r="1.1" fill="#4f9c2a"/>
<circle cx="105.81" cy="131.03" r="1.1" fill="#4f9c2a"/>
<circle cx="104.07" cy="133.26" r="1.1" fill="#4f9c2a"/>
<circle cx="103.87" cy="136.04" r="1.1" fill="#4f9c2a"/>
<circle cx="105.87" cy="138.09" r="1.1" fill="#4f9c2a"/>
<circle cx="105.49" cy="141.33" r="1.1" fill="#4f9c2a"/>
<circle cx="104.84" cy="154.90" r="1.1" fill="#4f9c2a"/>
<circle cx="105.18" cy="161.80" r="1.1" fill="#4f9c2a"/>
<circle cx="105.21" cy="174.10" r="1.1" fill="#4f9c2a"/>
<circle cx="104.74" cy="177.90" r="1.1" fill="#4f9c2a"/>
<circle cx="112.29" cy="105.32" r="1.2" fill="#bfbfc2"/>
<circle cx="112.90" cy="106.19" r="1.2" fill="#bfbfc2"/>
<circle cx="113.19" cy="107.06" r="1.2" fill="#bfbfc2"/>
<circle cx="112.29" cy="107.52" r="1.2" fill="#bfbfc2"/>
<circle cx="112.41" cy="108.92" r="1.2" fill="#bfbfc2"/>
<circle cx="112.74" cy="109.39" r="1.2" fill="#bfbfc2"/>
<circle cx="113.33" cy="110.10" r="1.2" fill="#bfbfc2"/>
<circle cx="112.61" cy="111.54" r="1.2" fill="#bfbfc2"/>
<circle cx="112.67" cy="112.12" r="1.2" fill="#bfbfc2"/>
<circle cx="112.81" cy="112.89" r="1.2" fill="#bfbfc2"/>
<circle cx="112.46" cy="113.42" r="1.2" fill="#bfbfc2"/>
<circle cx="113.58" cy="114.31" r="1.2" fill="#bfbfc2"/>
<circle cx="112.55" cy="115.42" r="1.2" fill="#bfbfc2"/>
<circle cx="113.71" cy="116.62" r="1.2" fill="#bfbfc2"/>
<circle cx="112.43" cy="117.09" r="1.2" fill="#bfbfc2"/>
<circle cx="112.36" cy="117.73" r="1.2" fill="#bfbfc2"/>
<circle cx="112.36" cy="118.71" r="1.2" fill="#bfbfc2"/>
<circle cx="112.61" cy="119.48" r="1.2" fill="#bfbfc2"/>
<circle cx="113.55" cy="120.62" r="1.2" fill="#bfbfc2"/>
<circle cx="112.84" cy="121.63" r="1.2" fill="#bfbfc2"/>
<circle cx="113.01" cy="122.20" r="1.2" fill="#bfbfc2"/>
<circle cx="112.73" cy="123.03" r="1.2" fill="#bfbfc2"/>
<circle cx="112.64" cy="123.62" r="1.2" fill="#bfbfc2"/>
<circle cx="112.41" cy="125.25" r="1.2" fill="#bfbfc2"/>
<circle cx="113.16" cy="125.71" r="1.2" fill="#bfbfc2"/>
<circle cx="112.54" cy="126.88" r="1.2" fill="#bfbfc2"/>
<circle cx="112.59" cy="127.22" r="1.2" fill="#bfbfc2"/>
<circle cx="112.89" cy="128.19" r="1.2" fill="#bfbfc2"/>
<circle cx="113.49" cy="129.53" r="1.2" fill="#bfbfc2"/>
<circle cx="112.25" cy="130.31" r="1.2" fill="#bfbfc2"/>
<circle cx="113.28" cy="130.45" r="1.2" fill="#bfbfc2"/>
<circle cx="112.93" cy="132.05" r="1.2" fill="#bfbfc2"/>
<circle cx="112.22" cy="132.64" r="1.2" fill="#bfbfc2"/>
<circle cx="113.61" cy="133.33" r="1.2" fill="#bfbfc2"/>
<circle cx="113.50" cy="134.56" r="1.2" fill="#bfbfc2"/>
<circle cx="112.59" cy="135.54" r="1.2" fill="#bfbfc2"/>
<circle cx="112.45" cy="135.66" r="1.2" fill="#bfbfc2"/>
<circle cx="113.24" cy="136.87" r="1.2" fill="#bfbfc2"/>
<circle cx="113.30" cy="138.09" r="1.2" fill="#bfbfc2"/>
<circle cx="113.37" cy="138.69" r="1.2" fill="#bfbfc2"/>
<circle cx="113.05" cy="139.39" r="1.2" fill="#bfbfc2"/>
<circle cx="113.39" cy="139.89" r="1.2" fill="#bfbfc2"/>
<circle cx="113.60" cy="140.91" r="1.2" fill="#bfbfc2"/>
<circle cx="112.68" cy="142.12" r="1.2" fill="#bfbfc2"/>
<circle cx="112.60" cy="142.54" r="1.2" fill="#bfbfc2"/>
<circle cx="113.27" cy="143.83" r="1.2" fill="#bfbfc2"/>
<circle cx="112.33" cy="144.24" r="1.2" fill="#bfbfc2"/>
<circle cx="113.09" cy="145.45" r="1.2" fill="#bfbfc2"/>
<circle cx="112.56" cy="146.19" r="1.2" fill="#bfbfc2"/>
<circle cx="112.24" cy="147.23" r="1.2" fill="#bfbfc2"/>
<circle cx="112.91" cy="147.83" r="1.2" fill="#bfbfc2"/>
<circle cx="113.19" cy="149.25" r="1.2" fill="#bfbfc2"/>
<circle cx="112.93" cy="150.04" r="1.2" fill="#bfbfc2"/>
<circle cx="112.59" cy="150.34" r="1.2" fill="#bfbfc2"/>
<circle cx="113.52" cy="154.90" r="1.1" fill="#bfbfc2"/>
<circle cx="113.22" cy="183.30" r="1.1" fill="#bfbfc2"/>
<circle cx="120.54" cy="110.26" r="1.2" fill="#e9b010"/>
<circle cx="121.52" cy="111.26" r="1.2" fill="#e9b010"/>
<circle cx="120.90" cy="112.03" r="1.2" fill="#e9b010"/>
<circle cx="121.90" cy="113.08" r="1.2" fill="#e9b010"/>
<circle cx="120.56" cy="113.55" r="1.2" fill="#e9b010"/>
<circle cx="121.14" cy="114.48" r="1.2" fill="#e9b010"/>
<circle cx="120.81" cy="115.61" r="1.2" fill="#e9b010"/>
<circle cx="121.62" cy="116.55" r="1.2" fill="#e9b010"/>
<circle cx="120.82" cy="117.14" r="1.2" fill="#e9b010"/>
<circle cx="120.98" cy="118.37" r="1.2" fill="#e9b010"/>
<circle cx="120.86" cy="119.09" r="1.2" fill="#e9b010"/>
<circle cx="121.65" cy="119.43" r="1.2" fill="#e9b010"/>
<circle cx="121.94" cy="120.33" r="1.2" fill="#e9b010"/>
<circle cx="120.79" cy="121.34" r="1.2" fill="#e9b010"/>
<circle cx="121.14" cy="121.95" r="1.2" fill="#e9b010"/>
<circle cx="121.93" cy="123.16" r="1.2" fill="#e9b010"/>
<circle cx="121.10" cy="123.56" r="1.2" fill="#e9b010"/>
<circle cx="121.97" cy="124.46" r="1.2" fill="#e9b010"/>
<circle cx="120.59" cy="125.24" r="1.2" fill="#e9b010"/>
<circle cx="121.10" cy="126.01" r="1.2" fill="#e9b010"/>
<circle cx="121.84" cy="127.55" r="1.2" fill="#e9b010"/>
<circle cx="122.01" cy="128.26" r="1.2" fill="#e9b010"/>
<circle cx="121.00" cy="129.26" r="1.2" fill="#e9b010"/>
<circle cx="121.91" cy="129.48" r="1.2" fill="#e9b010"/>
<circle cx="120.56" cy="130.79" r="1.2" fill="#e9b010"/>
<circle cx="120.94" cy="132.86" r="1.1" fill="#e9b010"/>
<circle cx="120.82" cy="135.55" r="1.1" fill="#e9b010"/>
<circle cx="119.97" cy="138.47" r="1.1" fill="#e9b010"/>
<circle cx="120.87" cy="142.28" r="1.1" fill="#e9b010"/>
<circle cx="121.81" cy="183.80" r="1.1" fill="#e9b010"/>
<circle cx="120.81" cy="187.00" r="1.1" fill="#e9b010"/>
<circle cx="129.11" cy="105.32" r="1.2" fill="#e9b010"/>
<circle cx="130.03" cy="105.57" r="1.2" fill="#e9b010"/>
<circle cx="129.45" cy="106.52" r="1.2" fill="#e9b010"/>
<circle cx="129.51" cy="106.66" r="1.2" fill="#e9b010"/>
<circle cx="130.18" cy="107.51" r="1.2" fill="#e9b010"/>
<circle cx="129.35" cy="108.04" r="1.2" fill="#e9b010"/>
<circle cx="128.85" cy="109.14" r="1.2" fill="#e9b010"/>
<circle cx="130.02" cy="109.47" r="1.2" fill="#e9b010"/>
<circle cx="128.86" cy="110.34" r="1.2" fill="#e9b010"/>
<circle cx="128.89" cy="110.52" r="1.2" fill="#e9b010"/>
<circle cx="129.19" cy="111.73" r="1.2" fill="#e9b010"/>
<circle cx="130.15" cy="112.26" r="1.2" fill="#e9b010"/>
<circle cx="129.21" cy="112.64" r="1.2" fill="#e9b010"/>
<circle cx="129.73" cy="113.69" r="1.2" fill="#e9b010"/>
<circle cx="129.87" cy="113.88" r="1.2" fill="#e9b010"/>
<circle cx="129.21" cy="114.56" r="1.2" fill="#e9b010"/>
<circle cx="130.21" cy="115.01" r="1.1" fill="#e9b010"/>
<circle cx="129.90" cy="120.37" r="1.1" fill="#e9b010"/>
<circle cx="128.31" cy="123.54" r="1.1" fill="#e9b010"/>
<circle cx="129.49" cy="124.88" r="1.1" fill="#e9b010"/>
<circle cx="130.73" cy="129.77" r="1.1" fill="#e9b010"/>
<circle cx="128.90" cy="131.46" r="1.1" fill="#e9b010"/>
<circle cx="129.53" cy="134.67" r="1.1" fill="#e9b010"/>
<circle cx="128.73" cy="139.00" r="1.1" fill="#e9b010"/>
<circle cx="130.17" cy="141.79" r="1.1" fill="#e9b010"/>
<circle cx="130.26" cy="144.94" r="1.1" fill="#e9b010"/>
<circle cx="129.68" cy="151.00" r="1.1" fill="#e9b010"/>
<circle cx="129.34" cy="152.70" r="1.1" fill="#e9b010"/>
<circle cx="129.33" cy="154.50" r="1.1" fill="#e9b010"/>
<circle cx="129.38" cy="156.20" r="1.1" fill="#e9b010"/>
<circle cx="129.89" cy="159.30" r="1.1" fill="#e9b010"/>
<circle cx="129.04" cy="162.80" r="1.1" fill="#e9b010"/>
<circle cx="129.19" cy="166.40" r="1.1" fill="#e9b010"/>
<circle cx="129.85" cy="179.20" r="1.1" fill="#e9b010"/>
<circle cx="129.25" cy="183.80" r="1.1" fill="#e9b010"/>
<circle cx="129.03" cy="185.30" r="1.1" fill="#e9b010"/>
<circle cx="137.98" cy="102.15" r="1.1" fill="#a6072d"/>
<circle cx="139.09" cy="104.31" r="1.1" fill="#a6072d"/>
<circle cx="139.11" cy="106.85" r="1.1" fill="#a6072d"/>
<circle cx="136.76" cy="107.74" r="1.1" fill="#a6072d"/>
<circle cx="137.84" cy="109.26" r="1.1" fill="#a6072d"/>
<circle cx="137.70" cy="111.88" r="1.1" fill="#a6072d"/>
<circle cx="137.62" cy="112.97" r="1.1" fill="#a6072d"/>
<circle cx="138.29" cy="115.27" r="1.1" fill="#a6072d"/>
<circle cx="138.74" cy="117.20" r="1.1" fill="#a6072d"/>
<circle cx="136.86" cy="118.84" r="1.1" fill="#a6072d"/>
<circle cx="137.30" cy="120.84" r="1.1" fill="#a6072d"/>
<circle cx="137.51" cy="122.22" r="1.1" fill="#a6072d"/>
<circle cx="137.06" cy="124.21" r="1.1" fill="#a6072d"/>
<circle cx="137.18" cy="125.28" r="1.1" fill="#a6072d"/>
<circle cx="138.84" cy="126.90" r="1.1" fill="#a6072d"/>
<circle cx="137.39" cy="129.26" r="1.1" fill="#a6072d"/>
<circle cx="139.12" cy="130.76" r="1.1" fill="#a6072d"/>
<circle cx="137.14" cy="132.67" r="1.1" fill="#a6072d"/>
<circle cx="138.24" cy="134.85" r="1.1" fill="#a6072d"/>
<circle cx="136.81" cy="136.86" r="1.1" fill="#a6072d"/>
<circle cx="138.67" cy="137.89" r="1.1" fill="#a6072d"/>
<circle cx="138.92" cy="140.16" r="1.1" fill="#a6072d"/>
<circle cx="137.30" cy="140.79" r="1.1" fill="#a6072d"/>
<circle cx="137.03" cy="142.66" r="1.1" fill="#a6072d"/>
<circle cx="138.06" cy="145.62" r="1.1" fill="#a6072d"/>
<circle cx="137.51" cy="147.31" r="1.1" fill="#a6072d"/>
<circle cx="137.71" cy="148.98" r="1.1" fill="#a6072d"/>
<circle cx="138.56" cy="149.88" r="1.1" fill="#a6072d"/>
<circle cx="136.82" cy="152.60" r="1.1" fill="#a6072d"/>
<circle cx="138.15" cy="153.87" r="1.1" fill="#a6072d"/>
<circle cx="137.50" cy="155.09" r="1.1" fill="#a6072d"/>
<circle cx="137.07" cy="156.74" r="1.1" fill="#a6072d"/>
<circle cx="137.55" cy="165.40" r="1.1" fill="#a6072d"/>
<circle cx="137.96" cy="171.00" r="1.1" fill="#a6072d"/>
<circle cx="138.02" cy="173.00" r="1.1" fill="#a6072d"/>
<circle cx="137.48" cy="176.60" r="1.1" fill="#a6072d"/>
<circle cx="137.25" cy="180.20" r="1.1" fill="#a6072d"/>
<circle cx="137.63" cy="181.60" r="1.1" fill="#a6072d"/>
<circle cx="138.05" cy="183.00" r="1.1" fill="#a6072d"/>
<circle cx="137.46" cy="184.30" r="1.1" fill="#a6072d"/>
<circle cx="137.61" cy="186.80" r="1.1" fill="#a6072d"/>
<circle cx="146.57" cy="102.20" r="1.2" fill="#4697de"/>
<circle cx="145.47" cy="107.18" r="1.2" fill="#4697de"/>
<circle cx="145.97" cy="107.37" r="1.2" fill="#4697de"/>
<circle cx="146.34" cy="107.85" r="1.2" fill="#4697de"/>
<circle cx="145.63" cy="113.09" r="1.2" fill="#4697de"/>
<circle cx="145.99" cy="126.70" r="1.2" fill="#4697de"/>
<circle cx="145.87" cy="150.30" r="1.1" fill="#4697de"/>
<circle cx="145.90" cy="173.00" r="1.1" fill="#4697de"/>
<circle cx="146.67" cy="185.80" r="1.1" fill="#4697de"/>
<circle cx="154.52" cy="106.31" r="1.2" fill="#4f9c2a"/>
<circle cx="154.29" cy="112.36" r="1.2" fill="#4f9c2a"/>
<circle cx="155.16" cy="119.58" r="1.2" fill="#4f9c2a"/>
<circle cx="153.97" cy="119.91" r="1.2" fill="#4f9c2a"/>
<circle cx="153.98" cy="120.82" r="1.2" fill="#4f9c2a"/>
<circle cx="155.02" cy="129.01" r="1.2" fill="#4f9c2a"/>
<circle cx="154.90" cy="138.42" r="1.2" fill="#4f9c2a"/>
<circle cx="154.31" cy="176.80" r="1.1" fill="#4f9c2a"/>
<circle cx="154.88" cy="188.00" r="1.1" fill="#4f9c2a"/>
<circle cx="162.20" cy="112.15" r="1.2" fill="#4697de"/>
<circle cx="162.79" cy="112.34" r="1.2" fill="#4697de"/>
<circle cx="163.32" cy="112.88" r="1.2" fill="#4697de"/>
<circle cx="162.89" cy="118.09" r="1.2" fill="#4697de"/>
<circle cx="162.72" cy="124.25" r="1.2" fill="#4697de"/>
<circle cx="162.38" cy="124.76" r="1.2" fill="#4697de"/>
<circle cx="163.35" cy="125.68" r="1.2" fill="#4697de"/>
<circle cx="162.70" cy="130.11" r="1.2" fill="#4697de"/>
<circle cx="163.41" cy="133.80" r="1.2" fill="#4697de"/>
<circle cx="162.35" cy="177.40" r="1.1" fill="#4697de"/>
<circle cx="162.26" cy="183.60" r="1.1" fill="#4697de"/>
<circle cx="163.24" cy="186.60" r="1.1" fill="#4697de"/>
<circle cx="170.96" cy="111.67" r="1.1" fill="#a6072d"/>
<circle cx="172.11" cy="112.14" r="1.1" fill="#a6072d"/>
<circle cx="172.05" cy="114.37" r="1.1" fill="#a6072d"/>
<circle cx="171.84" cy="116.46" r="1.1" fill="#a6072d"/>
<circle cx="171.74" cy="117.57" r="1.1" fill="#a6072d"/>
<circle cx="170.75" cy="119.42" r="1.1" fill="#a6072d"/>
<circle cx="171.86" cy="122.06" r="1.1" fill="#a6072d"/>
<circle cx="170.27" cy="122.89" r="1.1" fill="#a6072d"/>
<circle cx="171.05" cy="124.95" r="1.1" fill="#a6072d"/>
<circle cx="170.02" cy="126.69" r="1.1" fill="#a6072d"/>
<circle cx="171.58" cy="128.26" r="1.1" fill="#a6072d"/>
<circle cx="169.81" cy="130.94" r="1.1" fill="#a6072d"/>
<circle cx="171.67" cy="132.23" r="1.1" fill="#a6072d"/>
<circle cx="171.88" cy="133.25" r="1.1" fill="#a6072d"/>
<circle cx="171.26" cy="135.12" r="1.1" fill="#a6072d"/>
<circle cx="171.33" cy="137.49" r="1.1" fill="#a6072d"/>
<circle cx="170.79" cy="138.91" r="1.1" fill="#a6072d"/>
<circle cx="170.81" cy="141.06" r="1.1" fill="#a6072d"/>
<circle cx="171.19" cy="145.20" r="1.1" fill="#a6072d"/>
<circle cx="170.94" cy="157.10" r="1.1" fill="#a6072d"/>
<circle cx="170.93" cy="164.60" r="1.1" fill="#a6072d"/>
<circle cx="170.43" cy="171.70" r="1.1" fill="#a6072d"/>
<circle cx="171.14" cy="174.60" r="1.1" fill="#a6072d"/>
<circle cx="170.99" cy="180.90" r="1.1" fill="#a6072d"/>
<circle cx="170.68" cy="186.60" r="1.1" fill="#a6072d"/>
<circle cx="179.71" cy="102.13" r="1.2" fill="#e9b010"/>
<circle cx="178.81" cy="102.15" r="1.2" fill="#e9b010"/>
<circle cx="178.70" cy="102.18" r="1.2" fill="#e9b010"/>
<circle cx="179.19" cy="111.83" r="1.2" fill="#e9b010"/>
<circle cx="179.20" cy="115.32" r="1.2" fill="#e9b010"/>
<circle cx="178.60" cy="119.90" r="1.2" fill="#e9b010"/>
<circle cx="178.66" cy="128.90" r="1.2" fill="#e9b010"/>
<circle cx="179.71" cy="129.41" r="1.2" fill="#e9b010"/>
<circle cx="178.62" cy="129.77" r="1.2" fill="#e9b010"/>
<circle cx="179.29" cy="173.40" r="1.1" fill="#e9b010"/>
<circle cx="179.14" cy="173.40" r="1.1" fill="#e9b010"/>
<circle cx="179.83" cy="178.50" r="1.1" fill="#e9b010"/>
<circle cx="178.85" cy="183.30" r="1.1" fill="#e9b010"/>
<circle cx="188.32" cy="103.86" r="1.2" fill="#4697de"/>
<circle cx="188.05" cy="105.73" r="1.2" fill="#4697de"/>
<circle cx="188.30" cy="106.19" r="1.2" fill="#4697de"/>
<circle cx="188.26" cy="107.49" r="1.2" fill="#4697de"/>
<circle cx="187.08" cy="116.92" r="1.2" fill="#4697de"/>
<circle cx="188.70" cy="123.05" r="1.1" fill="#4697de"/>
<circle cx="187.19" cy="123.75" r="1.1" fill="#4697de"/>
<circle cx="186.69" cy="126.34" r="1.1" fill="#4697de"/>
<circle cx="188.06" cy="154.40" r="1.1" fill="#4697de"/>
<circle cx="187.31" cy="165.10" r="1.1" fill="#4697de"/>
<circle cx="187.96" cy="176.80" r="1.1" fill="#4697de"/>
<circle cx="187.15" cy="185.30" r="1.1" fill="#4697de"/>
<circle cx="187.58" cy="186.30" r="1.1" fill="#4697de"/>
<circle cx="195.11" cy="111.70" r="1.1" fill="#bfbfc2"/>
<circle cx="195.89" cy="113.44" r="1.1" fill="#bfbfc2"/>
<circle cx="194.67" cy="117.27" r="1.1" fill="#bfbfc2"/>
<circle cx="195.49" cy="176.60" r="1.1" fill="#bfbfc2"/>
<circle cx="195.46" cy="185.80" r="1.1" fill="#bfbfc2"/>
<circle cx="204.43" cy="104.52" r="1.2" fill="#a6072d"/>
<circle cx="203.66" cy="105.36" r="1.2" fill="#a6072d"/>
<circle cx="203.58" cy="106.14" r="1.2" fill="#a6072d"/>
<circle cx="204.36" cy="106.79" r="1.2" fill="#a6072d"/>
<circle cx="204.72" cy="110.32" r="1.2" fill="#a6072d"/>
<circle cx="204.28" cy="111.39" r="1.2" fill="#a6072d"/>
<circle cx="203.57" cy="112.57" r="1.2" fill="#a6072d"/>
<circle cx="204.35" cy="113.57" r="1.2" fill="#a6072d"/>
<circle cx="204.61" cy="113.92" r="1.2" fill="#a6072d"/>
<circle cx="204.90" cy="114.70" r="1.2" fill="#a6072d"/>
<circle cx="203.95" cy="115.87" r="1.2" fill="#a6072d"/>
<circle cx="204.07" cy="116.93" r="1.2" fill="#a6072d"/>
<circle cx="204.53" cy="117.30" r="1.2" fill="#a6072d"/>
<circle cx="204.64" cy="118.08" r="1.2" fill="#a6072d"/>
<circle cx="204.37" cy="119.16" r="1.2" fill="#a6072d"/>
<circle cx="204.29" cy="120.70" r="1.2" fill="#a6072d"/>
<circle cx="203.88" cy="121.31" r="1.2" fill="#a6072d"/>
<circle cx="203.46" cy="121.61" r="1.2" fill="#a6072d"/>
<circle cx="204.33" cy="122.63" r="1.2" fill="#a6072d"/>
<circle cx="204.18" cy="123.78" r="1.2" fill="#a6072d"/>
<circle cx="203.61" cy="125.09" r="1.2" fill="#a6072d"/>
<circle cx="204.39" cy="125.38" r="1.2" fill="#a6072d"/>
<circle cx="203.41" cy="126.09" r="1.2" fill="#a6072d"/>
<circle cx="203.57" cy="127.28" r="1.2" fill="#a6072d"/>
<circle cx="203.75" cy="128.18" r="1.2" fill="#a6072d"/>
<circle cx="204.29" cy="129.27" r="1.2" fill="#a6072d"/>
<circle cx="204.35" cy="129.83" r="1.2" fill="#a6072d"/>
<circle cx="203.61" cy="130.96" r="1.2" fill="#a6072d"/>
<circle cx="203.78" cy="132.26" r="1.2" fill="#a6072d"/>
<circle cx="203.55" cy="132.45" r="1.2" fill="#a6072d"/>
<circle cx="204.72" cy="133.78" r="1.2" fill="#a6072d"/>
<circle cx="204.01" cy="134.81" r="1.2" fill="#a6072d"/>
<circle cx="203.88" cy="155.20" r="1.1" fill="#a6072d"/>
<circle cx="203.57" cy="162.30" r="1.1" fill="#a6072d"/>
<circle cx="204.33" cy="166.40" r="1.1" fill="#a6072d"/>
<circle cx="204.23" cy="168.50" r="1.1" fill="#a6072d"/>
<circle cx="203.98" cy="170.50" r="1.1" fill="#a6072d"/>
<circle cx="204.33" cy="172.60" r="1.1" fill="#a6072d"/>
<circle cx="204.09" cy="178.70" r="1.1" fill="#a6072d"/>
<circle cx="204.68" cy="180.50" r="1.1" fill="#a6072d"/>
<circle cx="204.44" cy="182.20" r="1.1" fill="#a6072d"/>
<circle cx="203.86" cy="186.80" r="1.1" fill="#a6072d"/>
<circle cx="204.64" cy="188.10" r="1.1" fill="#a6072d"/>
<circle cx="203.61" cy="189.40" r="1.1" fill="#a6072d"/>
<circle cx="212.21" cy="103.93" r="1.1" fill="#4697de"/>
<circle cx="211.30" cy="105.24" r="1.1" fill="#4697de"/>
<circle cx="211.18" cy="107.71" r="1.1" fill="#4697de"/>
<circle cx="213.60" cy="109.11" r="1.1" fill="#4697de"/>
<circle cx="211.67" cy="110.27" r="1.1" fill="#4697de"/>
<circle cx="212.47" cy="112.63" r="1.1" fill="#4697de"/>
<circle cx="213.26" cy="114.39" r="1.1" fill="#4697de"/>
<circle cx="211.95" cy="115.47" r="1.1" fill="#4697de"/>
<circle cx="211.28" cy="117.36" r="1.1" fill="#4697de"/>
<circle cx="213.19" cy="119.89" r="1.1" fill="#4697de"/>
<circle cx="211.17" cy="121.37" r="1.1" fill="#4697de"/>
<circle cx="213.09" cy="123.26" r="1.1" fill="#4697de"/>
<circle cx="213.08" cy="124.46" r="1.1" fill="#4697de"/>
<circle cx="211.74" cy="126.16" r="1.1" fill="#4697de"/>
<circle cx="211.75" cy="127.40" r="1.1" fill="#4697de"/>
<circle cx="212.02" cy="129.03" r="1.1" fill="#4697de"/>
<circle cx="212.96" cy="131.72" r="1.1" fill="#4697de"/>
<circle cx="213.00" cy="133.57" r="1.1" fill="#4697de"/>
<circle cx="212.59" cy="134.49" r="1.1" fill="#4697de"/>
<circle cx="213.20" cy="136.44" r="1.1" fill="#4697de"/>
<circle cx="211.84" cy="138.28" r="1.1" fill="#4697de"/>
<circle cx="213.66" cy="140.16" r="1.1" fill="#4697de"/>
<circle cx="213.44" cy="141.59" r="1.1" fill="#4697de"/>
<circle cx="211.83" cy="144.42" r="1.1" fill="#4697de"/>
<circle cx="213.08" cy="148.39" r="1.1" fill="#4697de"/>
<circle cx="213.09" cy="153.68" r="1.1" fill="#4697de"/>
<circle cx="213.44" cy="155.38" r="1.1" fill="#4697de"/>
<circle cx="211.77" cy="158.76" r="1.1" fill="#4697de"/>
<circle cx="212.79" cy="163.70" r="1.1" fill="#4697de"/>
<circle cx="212.88" cy="166.50" r="1.1" fill="#4697de"/>
<circle cx="212.37" cy="170.37" r="1.1" fill="#4697de"/>
<circle cx="212.96" cy="171.93" r="1.1" fill="#4697de"/>
<circle cx="212.29" cy="173.70" r="1.1" fill="#4697de"/>
<circle cx="212.63" cy="175.26" r="1.1" fill="#4697de"/>
<circle cx="212.02" cy="178.20" r="1.2" fill="#4697de"/>
<circle cx="211.82" cy="179.04" r="1.2" fill="#4697de"/>
<circle cx="211.92" cy="179.87" r="1.2" fill="#4697de"/>
<circle cx="211.86" cy="179.95" r="1.2" fill="#4697de"/>
<circle cx="212.22" cy="181.17" r="1.2" fill="#4697de"/>
<circle cx="211.74" cy="181.31" r="1.2" fill="#4697de"/>
<circle cx="212.74" cy="181.88" r="1.2" fill="#4697de"/>
<circle cx="212.75" cy="182.91" r="1.2" fill="#4697de"/>
<circle cx="211.80" cy="183.62" r="1.2" fill="#4697de"/>
<circle cx="212.25" cy="184.17" r="1.2" fill="#4697de"/>
<circle cx="212.93" cy="184.95" r="1.2" fill="#4697de"/>
<circle cx="211.80" cy="185.64" r="1.2" fill="#4697de"/>
<circle cx="213.07" cy="186.27" r="1.2" fill="#4697de"/>
<circle cx="211.86" cy="186.96" r="1.2" fill="#4697de"/>
<circle cx="219.73" cy="114.66" r="1.1" fill="#e9b010"/>
<circle cx="221.64" cy="118.11" r="1.1" fill="#e9b010"/>
<circle cx="221.09" cy="124.60" r="1.1" fill="#e9b010"/>
<circle cx="221.08" cy="128.64" r="1.1" fill="#e9b010"/>
<circle cx="219.70" cy="130.92" r="1.1" fill="#e9b010"/>
<circle cx="221.41" cy="134.31" r="1.1" fill="#e9b010"/>
<circle cx="220.39" cy="183.40" r="1.1" fill="#e9b010"/>
<circle cx="220.52" cy="186.40" r="1.1" fill="#e9b010"/>
<circle cx="220.65" cy="188.50" r="1.1" fill="#e9b010"/>
<circle cx="228.40" cy="101.93" r="1.1" fill="#4697de"/>
<circle cx="229.59" cy="103.97" r="1.1" fill="#4697de"/>
<circle cx="228.56" cy="105.77" r="1.1" fill="#4697de"/>
<circle cx="229.04" cy="108.26" r="1.1" fill="#4697de"/>
<circle cx="229.34" cy="109.80" r="1.1" fill="#4697de"/>
<circle cx="228.80" cy="110.38" r="1.1" fill="#4697de"/>
<circle cx="229.74" cy="112.61" r="1.1" fill="#4697de"/>
<circle cx="229.56" cy="114.18" r="1.1" fill="#4697de"/>
<circle cx="228.29" cy="116.12" r="1.1" fill="#4697de"/>
<circle cx="227.97" cy="118.25" r="1.1" fill="#4697de"/>
<circle cx="228.17" cy="119.87" r="1.1" fill="#4697de"/>
<circle cx="228.26" cy="120.46" r="1.1" fill="#4697de"/>
<circle cx="230.27" cy="123.17" r="1.1" fill="#4697de"/>
<circle cx="229.01" cy="123.83" r="1.1" fill="#4697de"/>
<circle cx="229.80" cy="126.18" r="1.1" fill="#4697de"/>
<circle cx="229.02" cy="127.45" r="1.1" fill="#4697de"/>
<circle cx="229.89" cy="129.36" r="1.1" fill="#4697de"/>
<circle cx="230.18" cy="130.93" r="1.1" fill="#4697de"/>
<circle cx="228.29" cy="132.65" r="1.1" fill="#4697de"/>
<circle cx="229.03" cy="134.89" r="1.1" fill="#4697de"/>
<circle cx="229.38" cy="135.79" r="1.1" fill="#4697de"/>
<circle cx="229.78" cy="137.43" r="1.1" fill="#4697de"/>
<circle cx="229.78" cy="139.95" r="1.1" fill="#4697de"/>
<circle cx="228.65" cy="141.54" r="1.1" fill="#4697de"/>
<circle cx="228.76" cy="142.93" r="1.1" fill="#4697de"/>
<circle cx="227.95" cy="145.27" r="1.1" fill="#4697de"/>
<circle cx="227.80" cy="146.96" r="1.1" fill="#4697de"/>
<circle cx="228.41" cy="147.72" r="1.1" fill="#4697de"/>
<circle cx="229.03" cy="150.35" r="1.1" fill="#4697de"/>
<circle cx="230.03" cy="151.33" r="1.1" fill="#4697de"/>
<circle cx="228.93" cy="152.82" r="1.1" fill="#4697de"/>
<circle cx="229.69" cy="154.91" r="1.1" fill="#4697de"/>
<circle cx="229.41" cy="156.90" r="1.1" fill="#4697de"/>
<circle cx="228.58" cy="158.04" r="1.1" fill="#4697de"/>
<circle cx="229.92" cy="159.46" r="1.1" fill="#4697de"/>
<circle cx="229.66" cy="161.83" r="1.1" fill="#4697de"/>
<circle cx="228.87" cy="162.86" r="1.1" fill="#4697de"/>
<circle cx="229.24" cy="165.36" r="1.1" fill="#4697de"/>
<circle cx="228.97" cy="172.09" r="1.2" fill="#4697de"/>
<circle cx="228.64" cy="173.41" r="1.2" fill="#4697de"/>
<circle cx="228.73" cy="173.64" r="1.2" fill="#4697de"/>
<circle cx="229.55" cy="174.78" r="1.2" fill="#4697de"/>
<circle cx="228.51" cy="175.12" r="1.2" fill="#4697de"/>
<circle cx="228.77" cy="175.94" r="1.2" fill="#4697de"/>
<circle cx="228.52" cy="176.89" r="1.2" fill="#4697de"/>
<circle cx="228.56" cy="177.50" r="1.2" fill="#4697de"/>
<circle cx="229.37" cy="178.73" r="1.2" fill="#4697de"/>
<circle cx="229.72" cy="178.83" r="1.2" fill="#4697de"/>
<circle cx="228.86" cy="179.58" r="1.2" fill="#4697de"/>
<circle cx="229.47" cy="180.99" r="1.2" fill="#4697de"/>
<circle cx="228.93" cy="181.55" r="1.2" fill="#4697de"/>
<circle cx="229.24" cy="181.90" r="1.2" fill="#4697de"/>
<circle cx="228.59" cy="182.58" r="1.2" fill="#4697de"/>
<circle cx="228.33" cy="183.54" r="1.2" fill="#4697de"/>
<circle cx="237.76" cy="106.48" r="1.2" fill="#a6072d"/>
<circle cx="237.32" cy="107.39" r="1.2" fill="#a6072d"/>
<circle cx="237.26" cy="108.04" r="1.2" fill="#a6072d"/>
<circle cx="237.59" cy="122.26" r="1.1" fill="#a6072d"/>
<circle cx="237.95" cy="125.09" r="1.1" fill="#a6072d"/>
<circle cx="237.14" cy="128.36" r="1.1" fill="#a6072d"/>
<circle cx="237.41" cy="148.70" r="1.1" fill="#a6072d"/>
<circle cx="237.62" cy="153.10" r="1.1" fill="#a6072d"/>
<circle cx="237.23" cy="160.20" r="1.1" fill="#a6072d"/>
<circle cx="236.99" cy="180.80" r="1.1" fill="#a6072d"/>
<circle cx="237.59" cy="182.80" r="1.1" fill="#a6072d"/>
<circle cx="237.78" cy="184.90" r="1.1" fill="#a6072d"/>
<circle cx="245.91" cy="107.95" r="1.2" fill="#4697de"/>
<circle cx="246.08" cy="125.64" r="1.1" fill="#4697de"/>
<circle cx="245.49" cy="130.07" r="1.1" fill="#4697de"/>
<circle cx="245.94" cy="134.00" r="1.1" fill="#4697de"/>
<circle cx="245.13" cy="172.70" r="1.1" fill="#4697de"/>
<circle cx="245.51" cy="178.00" r="1.1" fill="#4697de"/>
<circle cx="245.95" cy="184.90" r="1.1" fill="#4697de"/>
<circle cx="245.87" cy="186.90" r="1.1" fill="#4697de"/>
<circle cx="253.25" cy="110.69" r="1.1" fill="#4697de"/>
<circle cx="253.78" cy="114.65" r="1.1" fill="#4697de"/>
<circle cx="253.66" cy="120.14" r="1.1" fill="#4697de"/>
<circle cx="255.02" cy="125.08" r="1.1" fill="#4697de"/>
<circle cx="254.30" cy="127.95" r="1.1" fill="#4697de"/>
<circle cx="254.23" cy="150.20" r="1.1" fill="#4697de"/>
<circle cx="253.77" cy="159.40" r="1.1" fill="#4697de"/>
<circle cx="253.89" cy="162.70" r="1.1" fill="#4697de"/>
<circle cx="254.47" cy="166.00" r="1.1" fill="#4697de"/>
<circle cx="253.35" cy="178.80" r="1.1" fill="#4697de"/>
<circle cx="253.95" cy="180.80" r="1.1" fill="#4697de"/>
<circle cx="253.49" cy="185.90" r="1.1" fill="#4697de"/>
<circle cx="263.34" cy="107.88" r="1.1" fill="#4697de"/>
<circle cx="261.15" cy="109.37" r="1.1" fill="#4697de"/>
<circle cx="262.30" cy="111.33" r="1.1" fill="#4697de"/>
<circle cx="262.22" cy="113.43" r="1.1" fill="#4697de"/>
<circle cx="263.05" cy="115.20" r="1.1" fill="#4697de"/>
<circle cx="261.96" cy="116.90" r="1.1" fill="#4697de"/>
<circle cx="261.44" cy="120.28" r="1.1" fill="#4697de"/>
<circle cx="261.91" cy="122.64" r="1.1" fill="#4697de"/>
<circle cx="261.21" cy="125.83" r="1.1" fill="#4697de"/>
<circle cx="261.81" cy="129.36" r="1.1" fill="#4697de"/>
<circle cx="261.60" cy="130.14" r="1.1" fill="#4697de"/>
<circle cx="260.92" cy="133.96" r="1.1" fill="#4697de"/>
<circle cx="261.98" cy="137.00" r="1.1" fill="#4697de"/>
<circle cx="261.81" cy="140.68" r="1.1" fill="#4697de"/>
<circle cx="261.47" cy="142.64" r="1.1" fill="#4697de"/>
<circle cx="263.33" cy="146.78" r="1.1" fill="#4697de"/>
<circle cx="261.46" cy="149.26" r="1.1" fill="#4697de"/>
<circle cx="261.91" cy="152.92" r="1.1" fill="#4697de"/>
<circle cx="261.23" cy="154.51" r="1.1" fill="#4697de"/>
<circle cx="262.99" cy="158.86" r="1.1" fill="#4697de"/>
<circle cx="262.11" cy="161.52" r="1.1" fill="#4697de"/>
<circle cx="261.48" cy="164.35" r="1.1" fill="#4697de"/>
<circle cx="261.81" cy="168.31" r="1.1" fill="#4697de"/>
<circle cx="263.02" cy="170.53" r="1.1" fill="#4697de"/>
<circle cx="262.14" cy="172.77" r="1.2" fill="#4697de"/>
<circle cx="262.26" cy="173.21" r="1.2" fill="#4697de"/>
<circle cx="262.69" cy="173.99" r="1.2" fill="#4697de"/>
<circle cx="262.72" cy="175.15" r="1.2" fill="#4697de"/>
<circle cx="262.00" cy="176.00" r="1.2" fill="#4697de"/>
<circle cx="262.08" cy="176.93" r="1.2" fill="#4697de"/>
<circle cx="261.44" cy="177.80" r="1.2" fill="#4697de"/>
<circle cx="261.86" cy="179.24" r="1.2" fill="#4697de"/>
<circle cx="261.89" cy="179.73" r="1.2" fill="#4697de"/>
<circle cx="262.08" cy="180.89" r="1.2" fill="#4697de"/>
<circle cx="262.43" cy="181.97" r="1.2" fill="#4697de"/>
<circle cx="262.83" cy="182.65" r="1.2" fill="#4697de"/>
<circle cx="261.53" cy="184.05" r="1.2" fill="#4697de"/>
<circle cx="262.80" cy="184.96" r="1.2" fill="#4697de"/>
<circle cx="261.65" cy="185.86" r="1.2" fill="#4697de"/>
<circle cx="262.39" cy="186.84" r="1.2" fill="#4697de"/>
<circle cx="269.21" cy="110.83" r="1.1" fill="#e9b010"/>
<circle cx="270.89" cy="115.61" r="1.1" fill="#e9b010"/>
<circle cx="269.44" cy="116.81" r="1.1" fill="#e9b010"/>
<circle cx="269.79" cy="127.30" r="1.1" fill="#e9b010"/>
<circle cx="270.08" cy="131.32" r="1.1" fill="#e9b010"/>
<circle cx="271.53" cy="132.66" r="1.1" fill="#e9b010"/>
<circle cx="270.83" cy="144.90" r="1.1" fill="#e9b010"/>
<circle cx="270.08" cy="152.20" r="1.1" fill="#e9b010"/>
<circle cx="270.95" cy="153.70" r="1.1" fill="#e9b010"/>
<circle cx="270.61" cy="155.30" r="1.1" fill="#e9b010"/>
<circle cx="270.82" cy="158.40" r="1.1" fill="#e9b010"/>
<circle cx="270.68" cy="173.70" r="1.1" fill="#e9b010"/>
<circle cx="270.95" cy="179.30" r="1.1" fill="#e9b010"/>
<circle cx="270.83" cy="183.40" r="1.1" fill="#e9b010"/>
<circle cx="270.89" cy="184.90" r="1.1" fill="#e9b010"/>
<circle cx="270.12" cy="186.40" r="1.1" fill="#e9b010"/>
<circle cx="278.85" cy="105.81" r="1.1" fill="#4697de"/>
<circle cx="278.61" cy="108.45" r="1.1" fill="#4697de"/>
<circle cx="278.91" cy="111.28" r="1.1" fill="#4697de"/>
<circle cx="278.08" cy="112.57" r="1.1" fill="#4697de"/>
<circle cx="278.75" cy="114.85" r="1.1" fill="#4697de"/>
<circle cx="278.68" cy="117.23" r="1.1" fill="#4697de"/>
<circle cx="278.75" cy="119.95" r="1.1" fill="#4697de"/>
<circle cx="278.87" cy="123.21" r="1.1" fill="#4697de"/>
<circle cx="277.49" cy="126.50" r="1.1" fill="#4697de"/>
<circle cx="278.69" cy="129.00" r="1.1" fill="#4697de"/>
<circle cx="279.20" cy="130.97" r="1.1" fill="#4697de"/>
<circle cx="278.44" cy="134.08" r="1.1" fill="#4697de"/>
<circle cx="279.97" cy="135.77" r="1.1" fill="#4697de"/>
<circle cx="279.13" cy="137.61" r="1.1" fill="#4697de"/>
<circle cx="277.54" cy="140.86" r="1.1" fill="#4697de"/>
<circle cx="279.24" cy="142.52" r="1.1" fill="#4697de"/>
<circle cx="278.33" cy="144.65" r="1.1" fill="#4697de"/>
<circle cx="278.80" cy="146.41" r="1.1" fill="#4697de"/>
<circle cx="279.80" cy="147.43" r="1.1" fill="#4697de"/>
<circle cx="279.34" cy="148.51" r="1.1" fill="#4697de"/>
<circle cx="278.35" cy="151.00" r="1.1" fill="#4697de"/>
<circle cx="278.42" cy="153.02" r="1.1" fill="#4697de"/>
<circle cx="278.84" cy="154.19" r="1.1" fill="#4697de"/>
<circle cx="278.02" cy="156.28" r="1.1" fill="#4697de"/>
<circle cx="278.57" cy="157.52" r="1.1" fill="#4697de"/>
<circle cx="279.62" cy="159.37" r="1.1" fill="#4697de"/>
<circle cx="279.62" cy="160.71" r="1.1" fill="#4697de"/>
<circle cx="278.78" cy="162.55" r="1.1" fill="#4697de"/>
<circle cx="278.79" cy="164.07" r="1.1" fill="#4697de"/>
<circle cx="279.17" cy="166.71" r="1.1" fill="#4697de"/>
<circle cx="278.33" cy="168.16" r="1.1" fill="#4697de"/>
<circle cx="278.25" cy="169.21" r="1.1" fill="#4697de"/>
<circle cx="279.12" cy="171.27" r="1.1" fill="#4697de"/>
<circle cx="277.57" cy="173.23" r="1.1" fill="#4697de"/>
<circle cx="279.77" cy="174.84" r="1.1" fill="#4697de"/>
<circle cx="277.60" cy="176.29" r="1.1" fill="#4697de"/>
<circle cx="277.49" cy="177.65" r="1.1" fill="#4697de"/>
<circle cx="279.87" cy="179.19" r="1.1" fill="#4697de"/>
<circle cx="279.18" cy="181.45" r="1.1" fill="#4697de"/>
<circle cx="279.84" cy="183.39" r="1.1" fill="#4697de"/>
<circle cx="279.07" cy="184.84" r="1.1" fill="#4697de"/>
<circle cx="279.28" cy="186.56" r="1.1" fill="#4697de"/>
<circle cx="287.53" cy="111.84" r="1.1" fill="#4697de"/>
<circle cx="287.49" cy="113.34" r="1.1" fill="#4697de"/>
<circle cx="287.74" cy="115.95" r="1.1" fill="#4697de"/>
<circle cx="286.23" cy="117.50" r="1.1" fill="#4697de"/>
<circle cx="286.50" cy="147.70" r="1.1" fill="#4697de"/>
<circle cx="287.39" cy="158.90" r="1.1" fill="#4697de"/>
<circle cx="287.56" cy="169.60" r="1.1" fill="#4697de"/>
<circle cx="287.25" cy="178.30" r="1.1" fill="#4697de"/>
<circle cx="286.90" cy="186.90" r="1.1" fill="#4697de"/>
<line x1="46.65" y1="103.7" x2="46.65" y2="136.3" stroke="#222" stroke-width="0.6" stroke-opacity="0.85"/>
<line x1="45.45" y1="103.7" x2="47.85" y2="103.7" stroke="#111" stroke-width="1.1"/>
<line x1="45.45" y1="136.3" x2="47.85" y2="136.3" stroke="#111" stroke-width="1.1"/>
<line x1="44.05" y1="119.8" x2="49.25" y2="119.8" stroke="#111" stroke-width="1.6"/>
<line x1="54.94" y1="112.3" x2="54.94" y2="132.2" stroke="#222" stroke-width="0.6" stroke-opacity="0.85"/>
<line x1="53.74" y1="112.3" x2="56.14" y2="112.3" stroke="#111" stroke-width="1.1"/>
<line x1="53.74" y1="132.2" x2="56.14" y2="132.2" stroke="#111" stroke-width="1.1"/>
<line x1="52.34" y1="122.6" x2="57.54" y2="122.6" stroke="#111" stroke-width="1.6"/>
<line x1="63.23" y1="104.0" x2="63.23" y2="141.4" stroke="#222" stroke-width="0.6" stroke-opacity="0.85"/>
<line x1="62.03" y1="104.0" x2="64.43" y2="104.0" stroke="#111" stroke-width="1.1"/>
<line x1="62.03" y1="141.4" x2="64.43" y2="141.4" stroke="#111" stroke-width="1.1"/>
<line x1="60.63" y1="122.6" x2="65.83" y2="122.6" stroke="#111" stroke-width="1.6"/>
<line x1="71.52" y1="107.2" x2="71.52" y2="138.4" stroke="#222" stroke-width="0.6" stroke-opacity="0.85"/>
<line x1="70.32" y1="107.2" x2="72.72" y2="107.2" stroke="#111" stroke-width="1.1"/>
<line x1="70.32" y1="138.4" x2="72.72" y2="138.4" stroke="#111" stroke-width="1.1"/>
<line x1="68.92" y1="122.8" x2="74.12" y2="122.8" stroke="#111" stroke-width="1.6"/>
<line x1="79.81" y1="106.0" x2="79.81" y2="140.4" stroke="#222" stroke-width="0.6" stroke-opacity="0.85"/>
<line x1="78.61" y1="106.0" x2="81.01" y2="106.0" stroke="#111" stroke-width="1.1"/>
<line x1="78.61" y1="140.4" x2="81.01" y2="140.4" stroke="#111" stroke-width="1.1"/>
<line x1="77.21" y1="124.4" x2="82.41" y2="124.4" stroke="#111" stroke-width="1.6"/>
<line x1="88.10" y1="106.2" x2="88.10" y2="143.5" stroke="#222" stroke-width="0.6" stroke-opacity="0.85"/>
<line x1="86.90" y1="106.2" x2="89.30" y2="106.2" stroke="#111" stroke-width="1.1"/>
<line x1="86.90" y1="143.5" x2="89.30" y2="143.5" stroke="#111" stroke-width="1.1"/>
<line x1="85.50" y1="124.8" x2="90.70" y2="124.8" stroke="#111" stroke-width="1.6"/>
<line x1="96.39" y1="105.0" x2="96.39" y2="145.5" stroke="#222" stroke-width="0.6" stroke-opacity="0.85"/>
<line x1="95.19" y1="105.0" x2="97.59" y2="105.0" stroke="#111" stroke-width="1.1"/>
<line x1="95.19" y1="145.5" x2="97.59" y2="145.5" stroke="#111" stroke-width="1.1"/>
<line x1="93.79" y1="125.6" x2="98.99" y2="125.6" stroke="#111" stroke-width="1.6"/>
<line x1="104.68" y1="108.0" x2="104.68" y2="143.0" stroke="#222" stroke-width="0.6" stroke-opacity="0.85"/>
<line x1="103.48" y1="108.0" x2="105.88" y2="108.0" stroke="#111" stroke-width="1.1"/>
<line x1="103.48" y1="143.0" x2="105.88" y2="143.0" stroke="#111" stroke-width="1.1"/>
<line x1="102.08" y1="126.8" x2="107.28" y2="126.8" stroke="#111" stroke-width="1.6"/>
<line x1="110.37" y1="127.9" x2="115.57" y2="127.9" stroke="#111" stroke-width="1.6"/>
<line x1="121.26" y1="108.8" x2="121.26" y2="146.5" stroke="#222" stroke-width="0.6" stroke-opacity="0.85"/>
<line x1="120.06" y1="108.8" x2="122.46" y2="108.8" stroke="#111" stroke-width="1.1"/>
<line x1="120.06" y1="146.5" x2="122.46" y2="146.5" stroke="#111" stroke-width="1.1"/>
<line x1="118.66" y1="127.9" x2="123.86" y2="127.9" stroke="#111" stroke-width="1.6"/>
<line x1="129.55" y1="107.0" x2="129.55" y2="148.0" stroke="#222" stroke-width="0.6" stroke-opacity="0.85"/>
<line x1="128.35" y1="107.0" x2="130.75" y2="107.0" stroke="#111" stroke-width="1.1"/>
<line x1="128.35" y1="148.0" x2="130.75" y2="148.0" stroke="#111" stroke-width="1.1"/>
<line x1="126.95" y1="128.3" x2="132.15" y2="128.3" stroke="#111" stroke-width="1.6"/>
<line x1="137.84" y1="106.0" x2="137.84" y2="158.0" stroke="#222" stroke-width="0.6" stroke-opacity="0.85"/>
<line x1="136.64" y1="106.0" x2="139.04" y2="106.0" stroke="#111" stroke-width="1.1"/>
<line x1="136.64" y1="158.0" x2="139.04" y2="158.0" stroke="#111" stroke-width="1.1"/>
<line x1="135.24" y1="133.3" x2="140.44" y2="133.3" stroke="#111" stroke-width="1.6"/>
<line x1="146.13" y1="100.6" x2="146.13" y2="165.4" stroke="#222" stroke-width="0.6" stroke-opacity="0.85"/>
<line x1="144.93" y1="100.6" x2="147.33" y2="100.6" stroke="#111" stroke-width="1.1"/>
<line x1="144.93" y1="165.4" x2="147.33" y2="165.4" stroke="#111" stroke-width="1.1"/>
<line x1="143.53" y1="133.3" x2="148.73" y2="133.3" stroke="#111" stroke-width="1.6"/>
<line x1="154.42" y1="106.0" x2="154.42" y2="163.6" stroke="#222" stroke-width="0.6" stroke-opacity="0.85"/>
<line x1="153.22" y1="106.0" x2="155.62" y2="106.0" stroke="#111" stroke-width="1.1"/>
<line x1="153.22" y1="163.6" x2="155.62" y2="163.6" stroke="#111" stroke-width="1.1"/>
<line x1="151.82" y1="135.0" x2="157.02" y2="135.0" stroke="#111" stroke-width="1.6"/>
<line x1="162.71" y1="108.3" x2="162.71" y2="165.4" stroke="#222" stroke-width="0.6" stroke-opacity="0.85"/>
<line x1="161.51" y1="108.3" x2="163.91" y2="108.3" stroke="#111" stroke-width="1.1"/>
<line x1="161.51" y1="165.4" x2="163.91" y2="165.4" stroke="#111" stroke-width="1.1"/>
<line x1="160.11" y1="136.6" x2="165.31" y2="136.6" stroke="#111" stroke-width="1.6"/>
<line x1="171.00" y1="111.0" x2="171.00" y2="160.3" stroke="#222" stroke-width="0.6" stroke-opacity="0.85"/>
<line x1="169.80" y1="111.0" x2="172.20" y2="111.0" stroke="#111" stroke-width="1.1"/>
<line x1="169.80" y1="160.3" x2="172.20" y2="160.3" stroke="#111" stroke-width="1.1"/>
<line x1="168.40" y1="136.8" x2="173.60" y2="136.8" stroke="#111" stroke-width="1.6"/>
<line x1="179.29" y1="107.2" x2="179.29" y2="168.7" stroke="#222" stroke-width="0.6" stroke-opacity="0.85"/>
<line x1="178.09" y1="107.2" x2="180.49" y2="107.2" stroke="#111" stroke-width="1.1"/>
<line x1="178.09" y1="168.7" x2="180.49" y2="168.7" stroke="#111" stroke-width="1.1"/>
<line x1="176.69" y1="138.4" x2="181.89" y2="138.4" stroke="#111" stroke-width="1.6"/>
<line x1="187.58" y1="107.8" x2="187.58" y2="168.7" stroke="#222" stroke-width="0.6" stroke-opacity="0.85"/>
<line x1="186.38" y1="107.8" x2="188.78" y2="107.8" stroke="#111" stroke-width="1.1"/>
<line x1="186.38" y1="168.7" x2="188.78" y2="168.7" stroke="#111" stroke-width="1.1"/>
<line x1="184.98" y1="138.4" x2="190.18" y2="138.4" stroke="#111" stroke-width="1.6"/>
<line x1="195.87" y1="105.2" x2="195.87" y2="172.0" stroke="#222" stroke-width="0.6" stroke-opacity="0.85"/>
<line x1="194.67" y1="105.2" x2="197.07" y2="105.2" stroke="#111" stroke-width="1.1"/>
<line x1="194.67" y1="172.0" x2="197.07" y2="172.0" stroke="#111" stroke-width="1.1"/>
<line x1="193.27" y1="138.7" x2="198.47" y2="138.7" stroke="#111" stroke-width="1.6"/>
<line x1="204.16" y1="110.0" x2="204.16" y2="166.0" stroke="#222" stroke-width="0.6" stroke-opacity="0.85"/>
<line x1="202.96" y1="110.0" x2="205.36" y2="110.0" stroke="#111" stroke-width="1.1"/>
<line x1="202.96" y1="166.0" x2="205.36" y2="166.0" stroke="#111" stroke-width="1.1"/>
<line x1="201.56" y1="139.4" x2="206.76" y2="139.4" stroke="#111" stroke-width="1.6"/>
<line x1="212.45" y1="115.4" x2="212.45" y2="168.1" stroke="#222" stroke-width="0.6" stroke-opacity="0.85"/>
<line x1="211.25" y1="115.4" x2="213.65" y2="115.4" stroke="#111" stroke-width="1.1"/>
<line x1="211.25" y1="168.1" x2="213.65" y2="168.1" stroke="#111" stroke-width="1.1"/>
<line x1="209.85" y1="142.1" x2="215.05" y2="142.1" stroke="#111" stroke-width="1.6"/>
<line x1="220.74" y1="111.3" x2="220.74" y2="173.5" stroke="#222" stroke-width="0.6" stroke-opacity="0.85"/>
<line x1="219.54" y1="111.3" x2="221.94" y2="111.3" stroke="#111" stroke-width="1.1"/>
<line x1="219.54" y1="173.5" x2="221.94" y2="173.5" stroke="#111" stroke-width="1.1"/>
<line x1="218.14" y1="142.4" x2="223.34" y2="142.4" stroke="#111" stroke-width="1.6"/>
<line x1="229.03" y1="117.2" x2="229.03" y2="167.3" stroke="#222" stroke-width="0.6" stroke-opacity="0.85"/>
<line x1="227.83" y1="117.2" x2="230.23" y2="117.2" stroke="#111" stroke-width="1.1"/>
<line x1="227.83" y1="167.3" x2="230.23" y2="167.3" stroke="#111" stroke-width="1.1"/>
<line x1="226.43" y1="142.4" x2="231.63" y2="142.4" stroke="#111" stroke-width="1.6"/>
<line x1="237.32" y1="113.4" x2="237.32" y2="172.4" stroke="#222" stroke-width="0.6" stroke-opacity="0.85"/>
<line x1="236.12" y1="113.4" x2="238.52" y2="113.4" stroke="#111" stroke-width="1.1"/>
<line x1="236.12" y1="172.4" x2="238.52" y2="172.4" stroke="#111" stroke-width="1.1"/>
<line x1="234.72" y1="142.8" x2="239.92" y2="142.8" stroke="#111" stroke-width="1.6"/>
<line x1="245.61" y1="115.4" x2="245.61" y2="175.2" stroke="#222" stroke-width="0.6" stroke-opacity="0.85"/>
<line x1="244.41" y1="115.4" x2="246.81" y2="115.4" stroke="#111" stroke-width="1.1"/>
<line x1="244.41" y1="175.2" x2="246.81" y2="175.2" stroke="#111" stroke-width="1.1"/>
<line x1="243.01" y1="145.3" x2="248.21" y2="145.3" stroke="#111" stroke-width="1.6"/>
<line x1="253.90" y1="121.0" x2="253.90" y2="171.1" stroke="#222" stroke-width="0.6" stroke-opacity="0.85"/>
<line x1="252.70" y1="121.0" x2="255.10" y2="121.0" stroke="#111" stroke-width="1.1"/>
<line x1="252.70" y1="171.1" x2="255.10" y2="171.1" stroke="#111" stroke-width="1.1"/>
<line x1="251.30" y1="146.1" x2="256.50" y2="146.1" stroke="#111" stroke-width="1.6"/>
<line x1="262.19" y1="120.5" x2="262.19" y2="173.2" stroke="#222" stroke-width="0.6" stroke-opacity="0.85"/>
<line x1="260.99" y1="120.5" x2="263.39" y2="120.5" stroke="#111" stroke-width="1.1"/>
<line x1="260.99" y1="173.2" x2="263.39" y2="173.2" stroke="#111" stroke-width="1.1"/>
<line x1="259.59" y1="146.9" x2="264.79" y2="146.9" stroke="#111" stroke-width="1.6"/>
<line x1="270.48" y1="122.0" x2="270.48" y2="175.2" stroke="#222" stroke-width="0.6" stroke-opacity="0.85"/>
<line x1="269.28" y1="122.0" x2="271.68" y2="122.0" stroke="#111" stroke-width="1.1"/>
<line x1="269.28" y1="175.2" x2="271.68" y2="175.2" stroke="#111" stroke-width="1.1"/>
<line x1="267.88" y1="148.7" x2="273.08" y2="148.7" stroke="#111" stroke-width="1.6"/>
<line x1="278.77" y1="126.4" x2="278.77" y2="176.7" stroke="#222" stroke-width="0.6" stroke-opacity="0.85"/>
<line x1="277.57" y1="126.4" x2="279.97" y2="126.4" stroke="#111" stroke-width="1.1"/>
<line x1="277.57" y1="176.7" x2="279.97" y2="176.7" stroke="#111" stroke-width="1.1"/>
<line x1="276.17" y1="151.4" x2="281.37" y2="151.4" stroke="#111" stroke-width="1.6"/>
<line x1="287.06" y1="124.1" x2="287.06" y2="179.8" stroke="#222" stroke-width="0.6" stroke-opacity="0.85"/>
<line x1="285.86" y1="124.1" x2="288.26" y2="124.1" stroke="#111" stroke-width="1.1"/>
<line x1="285.86" y1="179.8" x2="288.26" y2="179.8" stroke="#111" stroke-width="1.1"/>
<line x1="284.46" y1="152.0" x2="289.66" y2="152.0" stroke="#111" stroke-width="1.6"/>
<circle cx="48.1" cy="235.3" r="1.55" fill="#4f9c2a"/>
<text x="53.1" y="238.2" font-size="9.1" fill="#1e1e1e" stroke="#1e1e1e" stroke-width="0.08" textLength="38.6" lengthAdjust="spacingAndGlyphs" font-family="Liberation Sans, sans-serif">Epigenetic</text>
<text x="53.1" y="247.40" font-size="9.1" fill="#1e1e1e" stroke="#1e1e1e" stroke-width="0.08" textLength="36.5" lengthAdjust="spacingAndGlyphs" font-family="Liberation Sans, sans-serif">regulators</text>
<circle cx="102.7" cy="235.3" r="1.55" fill="#bfbfc2"/>
<text x="108.0" y="238.2" font-size="9.1" fill="#1e1e1e" stroke="#1e1e1e" stroke-width="0.08" textLength="27.4" lengthAdjust="spacingAndGlyphs" font-family="Liberation Sans, sans-serif">Splicing</text>
<text x="108.0" y="247.40" font-size="9.1" fill="#1e1e1e" stroke="#1e1e1e" stroke-width="0.08" textLength="24.4" lengthAdjust="spacingAndGlyphs" font-family="Liberation Sans, sans-serif">factors</text>
<circle cx="147.1" cy="235.3" r="1.55" fill="#4697de"/>
<text x="152.1" y="238.2" font-size="9.1" fill="#1e1e1e" stroke="#1e1e1e" stroke-width="0.08" textLength="32.9" lengthAdjust="spacingAndGlyphs" font-family="Liberation Sans, sans-serif">Signaling</text>
<text x="152.1" y="247.40" font-size="9.1" fill="#1e1e1e" stroke="#1e1e1e" stroke-width="0.08" textLength="34.1" lengthAdjust="spacingAndGlyphs" font-family="Liberation Sans, sans-serif">pathways</text>
<circle cx="199.1" cy="235.3" r="1.55" fill="#a6072d"/>
<text x="204.7" y="238.2" font-size="9.1" fill="#1e1e1e" stroke="#1e1e1e" stroke-width="0.08" textLength="46.0" lengthAdjust="spacingAndGlyphs" font-family="Liberation Sans, sans-serif">Transcription</text>
<text x="204.7" y="247.40" font-size="9.1" fill="#1e1e1e" stroke="#1e1e1e" stroke-width="0.08" textLength="24.4" lengthAdjust="spacingAndGlyphs" font-family="Liberation Sans, sans-serif">factors</text>
<circle cx="261.3" cy="235.3" r="1.55" fill="#e9b010"/>
<text x="266.5" y="238.2" font-size="9.1" fill="#1e1e1e" stroke="#1e1e1e" stroke-width="0.08" textLength="21.0" lengthAdjust="spacingAndGlyphs" font-family="Liberation Sans, sans-serif">Other</text>
<line x1="342.4" y1="44.0" x2="342.4" y2="160.9" stroke="#000" stroke-width="1.3"/>
<line x1="341.79999999999995" y1="160.3" x2="512.7" y2="160.3" stroke="#000" stroke-width="1.2"/>
<line x1="339.2" y1="160.30" x2="342.4" y2="160.30" stroke="#000" stroke-width="1"/>
<text x="336.3" y="163.00" font-size="8.4" text-anchor="end" fill="#1e1e1e" stroke="#1e1e1e" stroke-width="0.08" font-family="Liberation Sans, sans-serif">0</text>
<line x1="339.2" y1="103.80" x2="342.4" y2="103.80" stroke="#000" stroke-width="1"/>
<text x="336.3" y="106.50" font-size="8.4" text-anchor="end" fill="#1e1e1e" stroke="#1e1e1e" stroke-width="0.08" font-family="Liberation Sans, sans-serif">50</text>
<line x1="339.2" y1="47.30" x2="342.4" y2="47.30" stroke="#000" stroke-width="1"/>
<text x="336.3" y="50.00" font-size="8.4" text-anchor="end" fill="#1e1e1e" stroke="#1e1e1e" stroke-width="0.08" font-family="Liberation Sans, sans-serif">100</text>
<line x1="340.8" y1="154.65" x2="342.4" y2="154.65" stroke="#000" stroke-width="0.8"/>
<line x1="340.8" y1="149.00" x2="342.4" y2="149.00" stroke="#000" stroke-width="0.8"/>
<line x1="340.8" y1="143.35" x2="342.4" y2="143.35" stroke="#000" stroke-width="0.8"/>
<line x1="340.8" y1="137.70" x2="342.4" y2="137.70" stroke="#000" stroke-width="0.8"/>
<line x1="340.8" y1="132.05" x2="342.4" y2="132.05" stroke="#000" stroke-width="0.8"/>
<line x1="340.8" y1="126.40" x2="342.4" y2="126.40" stroke="#000" stroke-width="0.8"/>
<line x1="340.8" y1="120.75" x2="342.4" y2="120.75" stroke="#000" stroke-width="0.8"/>
<line x1="340.8" y1="115.10" x2="342.4" y2="115.10" stroke="#000" stroke-width="0.8"/>
<line x1="340.8" y1="109.45" x2="342.4" y2="109.45" stroke="#000" stroke-width="0.8"/>
<line x1="340.8" y1="98.15" x2="342.4" y2="98.15" stroke="#000" stroke-width="0.8"/>
<line x1="340.8" y1="92.50" x2="342.4" y2="92.50" stroke="#000" stroke-width="0.8"/>
<line x1="340.8" y1="86.85" x2="342.4" y2="86.85" stroke="#000" stroke-width="0.8"/>
<line x1="340.8" y1="81.20" x2="342.4" y2="81.20" stroke="#000" stroke-width="0.8"/>
<line x1="340.8" y1="75.55" x2="342.4" y2="75.55" stroke="#000" stroke-width="0.8"/>
<line x1="340.8" y1="69.90" x2="342.4" y2="69.90" stroke="#000" stroke-width="0.8"/>
<line x1="340.8" y1="64.25" x2="342.4" y2="64.25" stroke="#000" stroke-width="0.8"/>
<line x1="340.8" y1="58.60" x2="342.4" y2="58.60" stroke="#000" stroke-width="0.8"/>
<line x1="340.8" y1="52.95" x2="342.4" y2="52.95" stroke="#000" stroke-width="0.8"/>
<text transform="translate(316,101.3) rotate(-90)" font-size="9.2" text-anchor="middle" fill="#1e1e1e" stroke="#1e1e1e" stroke-width="0.08" textLength="61.57" lengthAdjust="spacingAndGlyphs" font-family="Liberation Sans, sans-serif">Adjusted VAF (%)</text>
<line x1="359.6" y1="97.7" x2="359.6" y2="156.9" stroke="#333" stroke-width="1"/>
<line x1="355.40000000000003" y1="97.7" x2="363.8" y2="97.7" stroke="#333" stroke-width="1"/>
<line x1="355.40000000000003" y1="156.9" x2="363.8" y2="156.9" stroke="#333" stroke-width="1"/>
<rect x="351.1" y="105.2" width="17" height="10.90" fill="#67a93a"/>
<line x1="351.1" y1="109.6" x2="368.1" y2="109.6" stroke="#000" stroke-width="1.4"/>
<line x1="359.6" y1="160.3" x2="359.6" y2="163.3" stroke="#000" stroke-width="0.9"/>
<line x1="393.1" y1="99.3" x2="393.1" y2="156.9" stroke="#333" stroke-width="1"/>
<line x1="388.90000000000003" y1="99.3" x2="397.3" y2="99.3" stroke="#333" stroke-width="1"/>
<line x1="388.90000000000003" y1="156.9" x2="397.3" y2="156.9" stroke="#333" stroke-width="1"/>
<rect x="384.6" y="106.3" width="17" height="9.80" fill="#e3e3e5"/>
<line x1="384.6" y1="110.4" x2="401.6" y2="110.4" stroke="#000" stroke-width="1.4"/>
<line x1="393.1" y1="160.3" x2="393.1" y2="163.3" stroke="#000" stroke-width="0.9"/>
<line x1="427.2" y1="98.3" x2="427.2" y2="156.3" stroke="#333" stroke-width="1"/>
<line x1="423.0" y1="98.3" x2="431.4" y2="98.3" stroke="#333" stroke-width="1"/>
<line x1="423.0" y1="156.3" x2="431.4" y2="156.3" stroke="#333" stroke-width="1"/>
<rect x="418.7" y="110.8" width="17" height="34.60" fill="#6cb1e7"/>
<line x1="418.7" y1="125.2" x2="435.7" y2="125.2" stroke="#000" stroke-width="1.4"/>
<text x="427.2" y="95.5" font-size="8.5" text-anchor="middle" fill="#1e1e1e" stroke="#1e1e1e" stroke-width="0.08" font-family="Liberation Sans, sans-serif">*</text>
<line x1="427.2" y1="160.3" x2="427.2" y2="163.3" stroke="#000" stroke-width="0.9"/>
<line x1="461.1" y1="98.7" x2="461.1" y2="157.5" stroke="#333" stroke-width="1"/>
<line x1="456.90000000000003" y1="98.7" x2="465.3" y2="98.7" stroke="#333" stroke-width="1"/>
<line x1="456.90000000000003" y1="157.5" x2="465.3" y2="157.5" stroke="#333" stroke-width="1"/>
<rect x="452.6" y="107.3" width="17" height="28.50" fill="#a3062b"/>
<line x1="452.6" y1="115.2" x2="469.6" y2="115.2" stroke="#000" stroke-width="1.4"/>
<text x="461.1" y="94.6" font-size="8.5" text-anchor="middle" fill="#1e1e1e" stroke="#1e1e1e" stroke-width="0.08" font-family="Liberation Sans, sans-serif">*</text>
<line x1="461.1" y1="160.3" x2="461.1" y2="163.3" stroke="#000" stroke-width="0.9"/>
<line x1="495.0" y1="98.3" x2="495.0" y2="156.9" stroke="#333" stroke-width="1"/>
<line x1="490.8" y1="98.3" x2="499.2" y2="98.3" stroke="#333" stroke-width="1"/>
<line x1="490.8" y1="156.9" x2="499.2" y2="156.9" stroke="#333" stroke-width="1"/>
<rect x="486.5" y="107.3" width="17" height="16.50" fill="#ebb923"/>
<line x1="486.5" y1="113.7" x2="503.5" y2="113.7" stroke="#000" stroke-width="1.4"/>
<line x1="495.0" y1="160.3" x2="495.0" y2="163.3" stroke="#000" stroke-width="0.9"/>
<text transform="translate(362.00,173.2) rotate(-45)" font-size="8.6" text-anchor="end" fill="#1e1e1e" stroke="#1e1e1e" stroke-width="0.08" textLength="36.95" lengthAdjust="spacingAndGlyphs" font-family="Liberation Sans, sans-serif">Epigenetic</text>
<text transform="translate(368.20,179.40) rotate(-45)" font-size="8.6" text-anchor="end" fill="#1e1e1e" stroke="#1e1e1e" stroke-width="0.08" textLength="35.18" lengthAdjust="spacingAndGlyphs" font-family="Liberation Sans, sans-serif">regulators</text>
<text transform="translate(395.50,173.2) rotate(-45)" font-size="8.6" text-anchor="end" fill="#1e1e1e" stroke="#1e1e1e" stroke-width="0.08" textLength="27.71" lengthAdjust="spacingAndGlyphs" font-family="Liberation Sans, sans-serif">Splicing</text>
<text transform="translate(401.70,179.40) rotate(-45)" font-size="8.6" text-anchor="end" fill="#1e1e1e" stroke="#1e1e1e" stroke-width="0.08" textLength="23.74" lengthAdjust="spacingAndGlyphs" font-family="Liberation Sans, sans-serif">factors</text>
<text transform="translate(429.60,173.2) rotate(-45)" font-size="8.6" text-anchor="end" fill="#1e1e1e" stroke="#1e1e1e" stroke-width="0.08" textLength="32.55" lengthAdjust="spacingAndGlyphs" font-family="Liberation Sans, sans-serif">Signaling</text>
<text transform="translate(435.80,179.40) rotate(-45)" font-size="8.6" text-anchor="end" fill="#1e1e1e" stroke="#1e1e1e" stroke-width="0.08" textLength="33.42" lengthAdjust="spacingAndGlyphs" font-family="Liberation Sans, sans-serif">pathways</text>
<text transform="translate(463.50,173.2) rotate(-45)" font-size="8.6" text-anchor="end" fill="#1e1e1e" stroke="#1e1e1e" stroke-width="0.08" textLength="45.43" lengthAdjust="spacingAndGlyphs" font-family="Liberation Sans, sans-serif">Transcription</text>
<text transform="translate(469.70,179.40) rotate(-45)" font-size="8.6" text-anchor="end" fill="#1e1e1e" stroke="#1e1e1e" stroke-width="0.08" textLength="23.74" lengthAdjust="spacingAndGlyphs" font-family="Liberation Sans, sans-serif">factors</text>
<text transform="translate(497.40,173.2) rotate(-45)" font-size="8.6" text-anchor="end" fill="#1e1e1e" stroke="#1e1e1e" stroke-width="0.08" textLength="19.79" lengthAdjust="spacingAndGlyphs" font-family="Liberation Sans, sans-serif">Other</text>
<line x1="46.4" y1="283.1" x2="46.4" y2="430.4" stroke="#000" stroke-width="1.1"/>
<line x1="43.1" y1="430.40" x2="46.4" y2="430.40" stroke="#000" stroke-width="1"/>
<text x="40.1" y="433.15" font-size="8.5" text-anchor="end" fill="#1e1e1e" stroke="#1e1e1e" stroke-width="0.08" textLength="11.67" lengthAdjust="spacingAndGlyphs" font-family="Liberation Sans, sans-serif">0%</text>
<line x1="43.1" y1="415.98" x2="46.4" y2="415.98" stroke="#000" stroke-width="1"/>
<text x="40.1" y="418.73" font-size="8.5" text-anchor="end" fill="#1e1e1e" stroke="#1e1e1e" stroke-width="0.08" textLength="16.16" lengthAdjust="spacingAndGlyphs" font-family="Liberation Sans, sans-serif">10%</text>
<line x1="43.1" y1="401.56" x2="46.4" y2="401.56" stroke="#000" stroke-width="1"/>
<text x="40.1" y="404.31" font-size="8.5" text-anchor="end" fill="#1e1e1e" stroke="#1e1e1e" stroke-width="0.08" textLength="16.16" lengthAdjust="spacingAndGlyphs" font-family="Liberation Sans, sans-serif">20%</text>
<line x1="43.1" y1="387.14" x2="46.4" y2="387.14" stroke="#000" stroke-width="1"/>
<text x="40.1" y="389.89" font-size="8.5" text-anchor="end" fill="#1e1e1e" stroke="#1e1e1e" stroke-width="0.08" textLength="16.16" lengthAdjust="spacingAndGlyphs" font-family="Liberation Sans, sans-serif">30%</text>
<line x1="43.1" y1="372.72" x2="46.4" y2="372.72" stroke="#000" stroke-width="1"/>
<text x="40.1" y="375.47" font-size="8.5" text-anchor="end" fill="#1e1e1e" stroke="#1e1e1e" stroke-width="0.08" textLength="16.16" lengthAdjust="spacingAndGlyphs" font-family="Liberation Sans, sans-serif">40%</text>
<line x1="43.1" y1="358.30" x2="46.4" y2="358.30" stroke="#000" stroke-width="1"/>
<text x="40.1" y="361.05" font-size="8.5" text-anchor="end" fill="#1e1e1e" stroke="#1e1e1e" stroke-width="0.08" textLength="16.16" lengthAdjust="spacingAndGlyphs" font-family="Liberation Sans, sans-serif">50%</text>
<line x1="43.1" y1="343.88" x2="46.4" y2="343.88" stroke="#000" stroke-width="1"/>
<text x="40.1" y="346.63" font-size="8.5" text-anchor="end" fill="#1e1e1e" stroke="#1e1e1e" stroke-width="0.08" textLength="16.16" lengthAdjust="spacingAndGlyphs" font-family="Liberation Sans, sans-serif">60%</text>
<line x1="43.1" y1="329.46" x2="46.4" y2="329.46" stroke="#000" stroke-width="1"/>
<text x="40.1" y="332.21" font-size="8.5" text-anchor="end" fill="#1e1e1e" stroke="#1e1e1e" stroke-width="0.08" textLength="16.16" lengthAdjust="spacingAndGlyphs" font-family="Liberation Sans, sans-serif">70%</text>
<line x1="43.1" y1="315.04" x2="46.4" y2="315.04" stroke="#000" stroke-width="1"/>
<text x="40.1" y="317.79" font-size="8.5" text-anchor="end" fill="#1e1e1e" stroke="#1e1e1e" stroke-width="0.08" textLength="16.16" lengthAdjust="spacingAndGlyphs" font-family="Liberation Sans, sans-serif">80%</text>
<line x1="43.1" y1="300.62" x2="46.4" y2="300.62" stroke="#000" stroke-width="1"/>
<text x="40.1" y="303.37" font-size="8.5" text-anchor="end" fill="#1e1e1e" stroke="#1e1e1e" stroke-width="0.08" textLength="16.16" lengthAdjust="spacingAndGlyphs" font-family="Liberation Sans, sans-serif">90%</text>
<line x1="43.1" y1="286.20" x2="46.4" y2="286.20" stroke="#000" stroke-width="1"/>
<text x="40.1" y="288.95" font-size="8.5" text-anchor="end" fill="#1e1e1e" stroke="#1e1e1e" stroke-width="0.08" textLength="20.65" lengthAdjust="spacingAndGlyphs" font-family="Liberation Sans, sans-serif">100%</text>
<rect x="49.56" y="360.75" width="3.05" height="69.65" fill="#63aee8"/>
<rect x="52.61" y="298.60" width="3.05" height="131.80" fill="#a50021"/>
<rect x="55.66" y="414.97" width="3.05" height="15.43" fill="#5ea432"/>
<rect x="58.71" y="354.41" width="3.05" height="75.99" fill="#c4c2c6"/>
<text transform="translate(58.56,439.8) rotate(-45)" font-size="8.4" text-anchor="end" fill="#1e1e1e" stroke="#1e1e1e" stroke-width="0.08" textLength="24.10" lengthAdjust="spacingAndGlyphs" font-family="Liberation Sans, sans-serif">ASXL1</text>
<rect x="68.08" y="325.28" width="3.05" height="105.12" fill="#63aee8"/>
<rect x="71.13" y="378.06" width="3.05" height="52.34" fill="#a50021"/>
<rect x="74.18" y="398.53" width="3.05" height="31.87" fill="#5ea432"/>
<rect x="77.23" y="377.91" width="3.05" height="52.49" fill="#c4c2c6"/>
<text transform="translate(77.08,439.8) rotate(-45)" font-size="8.4" text-anchor="end" fill="#1e1e1e" stroke="#1e1e1e" stroke-width="0.08" textLength="17.40" lengthAdjust="spacingAndGlyphs" font-family="Liberation Sans, sans-serif">TET2</text>
<rect x="86.60" y="351.09" width="3.05" height="79.31" fill="#63aee8"/>
<rect x="89.65" y="361.90" width="3.05" height="68.50" fill="#a50021"/>
<rect x="92.70" y="424.78" width="3.05" height="5.62" fill="#5ea432"/>
<rect x="95.75" y="396.80" width="3.05" height="33.60" fill="#c4c2c6"/>
<text transform="translate(95.60,439.8) rotate(-45)" font-size="8.4" text-anchor="end" fill="#1e1e1e" stroke="#1e1e1e" stroke-width="0.08" textLength="23.50" lengthAdjust="spacingAndGlyphs" font-family="Liberation Sans, sans-serif">SRSF2</text>
<rect x="105.12" y="425.93" width="3.05" height="4.47" fill="#63aee8"/>
<rect x="108.17" y="422.76" width="3.05" height="7.64" fill="#a50021"/>
<rect x="111.22" y="290.38" width="3.05" height="140.02" fill="#5ea432"/>
<rect x="114.27" y="414.97" width="3.05" height="15.43" fill="#c4c2c6"/>
<text transform="translate(114.12,439.8) rotate(-45)" font-size="8.4" text-anchor="end" fill="#1e1e1e" stroke="#1e1e1e" stroke-width="0.08" textLength="23.50" lengthAdjust="spacingAndGlyphs" font-family="Liberation Sans, sans-serif">SF3B1</text>
<rect x="123.64" y="415.11" width="3.05" height="15.29" fill="#63aee8"/>
<rect x="126.69" y="427.08" width="3.05" height="3.32" fill="#a50021"/>
<rect x="129.74" y="378.06" width="3.05" height="52.34" fill="#5ea432"/>
<rect x="132.79" y="394.35" width="3.05" height="36.05" fill="#c4c2c6"/>
<text transform="translate(132.64,439.8) rotate(-45)" font-size="8.4" text-anchor="end" fill="#1e1e1e" stroke="#1e1e1e" stroke-width="0.08" textLength="18.80" lengthAdjust="spacingAndGlyphs" font-family="Liberation Sans, sans-serif">JAK2</text>
<rect x="142.16" y="420.16" width="3.05" height="10.24" fill="#63aee8"/>
<rect x="145.21" y="384.26" width="3.05" height="46.14" fill="#a50021"/>
<rect x="148.26" y="421.03" width="3.05" height="9.37" fill="#5ea432"/>
<rect x="151.31" y="394.49" width="3.05" height="35.91" fill="#c4c2c6"/>
<text transform="translate(151.16,439.8) rotate(-45)" font-size="8.4" text-anchor="end" fill="#1e1e1e" stroke="#1e1e1e" stroke-width="0.08" textLength="19.30" lengthAdjust="spacingAndGlyphs" font-family="Liberation Sans, sans-serif">EZH2</text>
<rect x="160.68" y="395.07" width="3.05" height="35.33" fill="#63aee8"/>
<rect x="163.73" y="402.71" width="3.05" height="27.69" fill="#a50021"/>
<rect x="166.78" y="429.25" width="3.05" height="1.15" fill="#5ea432"/>
<rect x="169.83" y="406.46" width="3.05" height="23.94" fill="#c4c2c6"/>
<text transform="translate(169.68,439.8) rotate(-45)" font-size="8.4" text-anchor="end" fill="#1e1e1e" stroke="#1e1e1e" stroke-width="0.08" textLength="26.20" lengthAdjust="spacingAndGlyphs" font-family="Liberation Sans, sans-serif">RUNX1</text>
<rect x="179.20" y="416.12" width="3.05" height="14.28" fill="#63aee8"/>
<rect x="182.25" y="376.04" width="3.05" height="54.36" fill="#a50021"/>
<rect x="185.30" y="429.25" width="3.05" height="1.15" fill="#5ea432"/>
<rect x="188.35" y="413.53" width="3.05" height="16.87" fill="#c4c2c6"/>
<text transform="translate(188.20,439.8) rotate(-45)" font-size="8.4" text-anchor="end" fill="#1e1e1e" stroke="#1e1e1e" stroke-width="0.08" textLength="28.20" lengthAdjust="spacingAndGlyphs" font-family="Liberation Sans, sans-serif">SETBP1</text>
<rect x="197.72" y="405.45" width="3.05" height="24.95" fill="#63aee8"/>
<rect x="200.77" y="400.55" width="3.05" height="29.85" fill="#a50021"/>
<rect x="206.87" y="413.53" width="3.05" height="16.87" fill="#c4c2c6"/>
<text transform="translate(206.72,439.8) rotate(-45)" font-size="8.4" text-anchor="end" fill="#1e1e1e" stroke="#1e1e1e" stroke-width="0.08" textLength="21.10" lengthAdjust="spacingAndGlyphs" font-family="Liberation Sans, sans-serif">NRAS</text>
<rect x="216.24" y="398.39" width="3.05" height="32.01" fill="#63aee8"/>
<rect x="219.29" y="408.91" width="3.05" height="21.49" fill="#a50021"/>
<rect x="222.34" y="427.23" width="3.05" height="3.17" fill="#5ea432"/>
<rect x="225.39" y="421.46" width="3.05" height="8.94" fill="#c4c2c6"/>
<text transform="translate(225.24,439.8) rotate(-45)" font-size="8.4" text-anchor="end" fill="#1e1e1e" stroke="#1e1e1e" stroke-width="0.08" textLength="13.70" lengthAdjust="spacingAndGlyphs" font-family="Liberation Sans, sans-serif">CBL</text>
<rect x="234.76" y="398.10" width="3.05" height="32.30" fill="#63aee8"/>
<rect x="237.81" y="421.03" width="3.05" height="9.37" fill="#a50021"/>
<rect x="243.91" y="424.20" width="3.05" height="6.20" fill="#c4c2c6"/>
<text transform="translate(243.76,439.8) rotate(-45)" font-size="8.4" text-anchor="end" fill="#1e1e1e" stroke="#1e1e1e" stroke-width="0.08" textLength="20.10" lengthAdjust="spacingAndGlyphs" font-family="Liberation Sans, sans-serif">KRAS</text>
<rect x="253.28" y="426.51" width="3.05" height="3.89" fill="#63aee8"/>
<rect x="256.33" y="425.06" width="3.05" height="5.34" fill="#a50021"/>
<rect x="259.38" y="404.88" width="3.05" height="25.52" fill="#5ea432"/>
<rect x="262.43" y="411.94" width="3.05" height="18.46" fill="#c4c2c6"/>
<text transform="translate(262.28,439.8) rotate(-45)" font-size="8.4" text-anchor="end" fill="#1e1e1e" stroke="#1e1e1e" stroke-width="0.08" textLength="35.60" lengthAdjust="spacingAndGlyphs" font-family="Liberation Sans, sans-serif">DNMT3A</text>
<rect x="271.80" y="429.82" width="3.05" height="0.58" fill="#63aee8"/>
<rect x="274.85" y="404.88" width="3.05" height="25.52" fill="#a50021"/>
<rect x="277.90" y="427.23" width="3.05" height="3.17" fill="#5ea432"/>
<rect x="280.95" y="413.38" width="3.05" height="17.02" fill="#c4c2c6"/>
<text transform="translate(280.80,439.8) rotate(-45)" font-size="8.4" text-anchor="end" fill="#1e1e1e" stroke="#1e1e1e" stroke-width="0.08" textLength="25.50" lengthAdjust="spacingAndGlyphs" font-family="Liberation Sans, sans-serif">GATA2</text>
<rect x="290.32" y="426.51" width="3.05" height="3.89" fill="#63aee8"/>
<rect x="293.37" y="414.83" width="3.05" height="15.57" fill="#a50021"/>
<rect x="299.47" y="408.19" width="3.05" height="22.21" fill="#c4c2c6"/>
<text transform="translate(299.32,439.8) rotate(-45)" font-size="8.4" text-anchor="end" fill="#1e1e1e" stroke="#1e1e1e" stroke-width="0.08" textLength="25.50" lengthAdjust="spacingAndGlyphs" font-family="Liberation Sans, sans-serif">STAG2</text>
<rect x="308.84" y="421.46" width="3.05" height="8.94" fill="#63aee8"/>
<rect x="311.89" y="427.23" width="3.05" height="3.17" fill="#a50021"/>
<rect x="317.99" y="404.16" width="3.05" height="26.24" fill="#c4c2c6"/>
<text transform="translate(317.84,439.8) rotate(-45)" font-size="8.4" text-anchor="end" fill="#1e1e1e" stroke="#1e1e1e" stroke-width="0.08" textLength="25.00" lengthAdjust="spacingAndGlyphs" font-family="Liberation Sans, sans-serif">U2AF1</text>
<rect x="327.36" y="422.76" width="3.05" height="7.64" fill="#63aee8"/>
<rect x="330.41" y="417.13" width="3.05" height="13.27" fill="#a50021"/>
<rect x="333.46" y="425.06" width="3.05" height="5.34" fill="#5ea432"/>
<rect x="336.51" y="420.45" width="3.05" height="9.95" fill="#c4c2c6"/>
<text transform="translate(336.36,439.8) rotate(-45)" font-size="8.4" text-anchor="end" fill="#1e1e1e" stroke="#1e1e1e" stroke-width="0.08" textLength="20.80" lengthAdjust="spacingAndGlyphs" font-family="Liberation Sans, sans-serif">CUX1</text>
<rect x="345.88" y="428.81" width="3.05" height="1.59" fill="#63aee8"/>
<rect x="348.93" y="427.23" width="3.05" height="3.17" fill="#a50021"/>
<rect x="351.98" y="427.23" width="3.05" height="3.17" fill="#5ea432"/>
<rect x="355.03" y="412.23" width="3.05" height="18.17" fill="#c4c2c6"/>
<text transform="translate(354.88,439.8) rotate(-45)" font-size="8.4" text-anchor="end" fill="#1e1e1e" stroke="#1e1e1e" stroke-width="0.08" textLength="17.30" lengthAdjust="spacingAndGlyphs" font-family="Liberation Sans, sans-serif">TP53</text>
<rect x="364.40" y="423.77" width="3.05" height="6.63" fill="#63aee8"/>
<rect x="367.45" y="418.86" width="3.05" height="11.54" fill="#a50021"/>
<rect x="373.55" y="424.34" width="3.05" height="6.06" fill="#c4c2c6"/>
<text transform="translate(373.40,439.8) rotate(-45)" font-size="8.4" text-anchor="end" fill="#1e1e1e" stroke="#1e1e1e" stroke-width="0.08" textLength="29.60" lengthAdjust="spacingAndGlyphs" font-family="Liberation Sans, sans-serif">PTPN11</text>
<rect x="382.92" y="428.38" width="3.05" height="2.02" fill="#63aee8"/>
<rect x="385.97" y="415.11" width="3.05" height="15.29" fill="#a50021"/>
<rect x="392.07" y="423.33" width="3.05" height="7.07" fill="#c4c2c6"/>
<text transform="translate(391.92,439.8) rotate(-45)" font-size="8.4" text-anchor="end" fill="#1e1e1e" stroke="#1e1e1e" stroke-width="0.08" textLength="24.30" lengthAdjust="spacingAndGlyphs" font-family="Liberation Sans, sans-serif">CSF3R</text>
<rect x="401.44" y="422.32" width="3.05" height="8.08" fill="#63aee8"/>
<rect x="404.49" y="426.94" width="3.05" height="3.46" fill="#a50021"/>
<rect x="410.59" y="423.05" width="3.05" height="7.35" fill="#c4c2c6"/>
<text transform="translate(410.44,439.8) rotate(-45)" font-size="8.4" text-anchor="end" fill="#1e1e1e" stroke="#1e1e1e" stroke-width="0.08" textLength="24.30" lengthAdjust="spacingAndGlyphs" font-family="Liberation Sans, sans-serif">ZRSR2</text>
<line x1="45.9" y1="431.0" x2="416.9" y2="431.0" stroke="#333" stroke-width="1.6"/>
<rect x="125.2" y="478.5" width="3.5" height="3.5" fill="#63aee8"/>
<text x="131.9" y="482.8" font-size="8.6" fill="#1e1e1e" stroke="#1e1e1e" stroke-width="0.08" textLength="24.3" lengthAdjust="spacingAndGlyphs" font-family="Liberation Sans, sans-serif">CMML</text>
<rect x="165.4" y="478.5" width="3.5" height="3.5" fill="#a50021"/>
<text x="172.3" y="482.8" font-size="8.6" fill="#1e1e1e" stroke="#1e1e1e" stroke-width="0.08" textLength="21.1" lengthAdjust="spacingAndGlyphs" font-family="Liberation Sans, sans-serif">aCML</text>
<rect x="203.0" y="478.5" width="3.5" height="3.5" fill="#5ea432"/>
<text x="209.5" y="482.8" font-size="8.6" fill="#1e1e1e" stroke="#1e1e1e" stroke-width="0.08" textLength="58.0" lengthAdjust="spacingAndGlyphs" font-family="Liberation Sans, sans-serif">MDS/MPN-RS-T</text>
<rect x="276.3" y="478.5" width="3.5" height="3.5" fill="#c4c2c6"/>
<text x="283.1" y="482.8" font-size="8.6" fill="#1e1e1e" stroke="#1e1e1e" stroke-width="0.08" textLength="46.6" lengthAdjust="spacingAndGlyphs" font-family="Liberation Sans, sans-serif">MDS/MPN-U</text>
<rect x="0.55" y="0.55" width="518.9" height="488.2" fill="none" stroke="#000" stroke-width="1.1"/>
<line x1="0" y1="489.2" x2="520" y2="489.2" stroke="#000" stroke-width="1.6"/></svg>
</body></html>
